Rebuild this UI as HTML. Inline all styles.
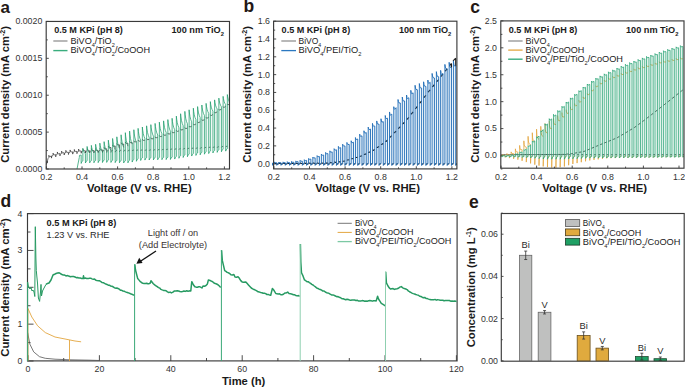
<!DOCTYPE html><html><head><meta charset="utf-8"><style>html,body{margin:0;padding:0;background:#fff;overflow:hidden}svg{display:block}text{font-family:"Liberation Sans",sans-serif}</style></head><body><svg width="685" height="388" viewBox="0 0 685 388" font-family="Liberation Sans, sans-serif">
<rect width="685" height="388" fill="#fff"/>
<text x="0.6" y="12.5" font-size="17.0" font-weight="bold" text-anchor="start" fill="#231815" >a</text>
<text x="243.6" y="12.4" font-size="17.5" font-weight="bold" text-anchor="start" fill="#231815" >b</text>
<text x="470.2" y="12.6" font-size="17.5" font-weight="bold" text-anchor="start" fill="#231815" >c</text>
<text x="0.5" y="207.2" font-size="17.5" font-weight="bold" text-anchor="start" fill="#231815" >d</text>
<text x="469.0" y="207.9" font-size="17.5" font-weight="bold" text-anchor="start" fill="#231815" >e</text>
<line x1="46.40" y1="169.0" x2="46.40" y2="166.4" stroke="#3a3a3a" stroke-width="0.9"/>
<line x1="82.00" y1="169.0" x2="82.00" y2="166.4" stroke="#3a3a3a" stroke-width="0.9"/>
<line x1="117.60" y1="169.0" x2="117.60" y2="166.4" stroke="#3a3a3a" stroke-width="0.9"/>
<line x1="153.20" y1="169.0" x2="153.20" y2="166.4" stroke="#3a3a3a" stroke-width="0.9"/>
<line x1="188.80" y1="169.0" x2="188.80" y2="166.4" stroke="#3a3a3a" stroke-width="0.9"/>
<line x1="224.40" y1="169.0" x2="224.40" y2="166.4" stroke="#3a3a3a" stroke-width="0.9"/>
<line x1="64.20" y1="169.0" x2="64.20" y2="167.4" stroke="#3a3a3a" stroke-width="0.9"/>
<line x1="99.80" y1="169.0" x2="99.80" y2="167.4" stroke="#3a3a3a" stroke-width="0.9"/>
<line x1="135.40" y1="169.0" x2="135.40" y2="167.4" stroke="#3a3a3a" stroke-width="0.9"/>
<line x1="171.00" y1="169.0" x2="171.00" y2="167.4" stroke="#3a3a3a" stroke-width="0.9"/>
<line x1="206.60" y1="169.0" x2="206.60" y2="167.4" stroke="#3a3a3a" stroke-width="0.9"/>
<text x="46.40" y="179.8" font-size="8.8" text-anchor="middle" fill="#333" >0.2</text>
<text x="82.00" y="179.8" font-size="8.8" text-anchor="middle" fill="#333" >0.4</text>
<text x="117.60" y="179.8" font-size="8.8" text-anchor="middle" fill="#333" >0.6</text>
<text x="153.20" y="179.8" font-size="8.8" text-anchor="middle" fill="#333" >0.8</text>
<text x="188.80" y="179.8" font-size="8.8" text-anchor="middle" fill="#333" >1.0</text>
<text x="224.40" y="179.8" font-size="8.8" text-anchor="middle" fill="#333" >1.2</text>
<text x="139.3" y="192.3" font-size="10.2" font-weight="bold" text-anchor="middle" fill="#1a1a1a" textLength="104.8" lengthAdjust="spacingAndGlyphs" >Voltage (V vs. RHE)</text>
<text x="54.2" y="33.0" font-size="9.5" font-weight="bold" text-anchor="start" fill="#1a1a1a" textLength="68.6" lengthAdjust="spacingAndGlyphs" >0.5 M KPi (pH 8)</text>
<text x="171.5" y="33.0" font-size="9.5" font-weight="bold" fill="#1a1a1a" textLength="52.40" lengthAdjust="spacingAndGlyphs">100 nm TiO<tspan font-size="6.0" dy="2.9">2</tspan></text>
<line x1="273.90" y1="168.9" x2="273.90" y2="166.3" stroke="#3a3a3a" stroke-width="0.9"/>
<line x1="309.50" y1="168.9" x2="309.50" y2="166.3" stroke="#3a3a3a" stroke-width="0.9"/>
<line x1="345.10" y1="168.9" x2="345.10" y2="166.3" stroke="#3a3a3a" stroke-width="0.9"/>
<line x1="380.70" y1="168.9" x2="380.70" y2="166.3" stroke="#3a3a3a" stroke-width="0.9"/>
<line x1="416.30" y1="168.9" x2="416.30" y2="166.3" stroke="#3a3a3a" stroke-width="0.9"/>
<line x1="451.90" y1="168.9" x2="451.90" y2="166.3" stroke="#3a3a3a" stroke-width="0.9"/>
<line x1="291.70" y1="168.9" x2="291.70" y2="167.3" stroke="#3a3a3a" stroke-width="0.9"/>
<line x1="327.30" y1="168.9" x2="327.30" y2="167.3" stroke="#3a3a3a" stroke-width="0.9"/>
<line x1="362.90" y1="168.9" x2="362.90" y2="167.3" stroke="#3a3a3a" stroke-width="0.9"/>
<line x1="398.50" y1="168.9" x2="398.50" y2="167.3" stroke="#3a3a3a" stroke-width="0.9"/>
<line x1="434.10" y1="168.9" x2="434.10" y2="167.3" stroke="#3a3a3a" stroke-width="0.9"/>
<text x="273.90" y="179.8" font-size="8.8" text-anchor="middle" fill="#333" >0.2</text>
<text x="309.50" y="179.8" font-size="8.8" text-anchor="middle" fill="#333" >0.4</text>
<text x="345.10" y="179.8" font-size="8.8" text-anchor="middle" fill="#333" >0.6</text>
<text x="380.70" y="179.8" font-size="8.8" text-anchor="middle" fill="#333" >0.8</text>
<text x="416.30" y="179.8" font-size="8.8" text-anchor="middle" fill="#333" >1.0</text>
<text x="451.90" y="179.8" font-size="8.8" text-anchor="middle" fill="#333" >1.2</text>
<text x="367.6" y="192.3" font-size="10.2" font-weight="bold" text-anchor="middle" fill="#1a1a1a" textLength="104.8" lengthAdjust="spacingAndGlyphs" >Voltage (V vs. RHE)</text>
<text x="281.6" y="33.0" font-size="9.5" font-weight="bold" text-anchor="start" fill="#1a1a1a" textLength="68.6" lengthAdjust="spacingAndGlyphs" >0.5 M KPi (pH 8)</text>
<text x="398.9" y="33.0" font-size="9.5" font-weight="bold" fill="#1a1a1a" textLength="52.40" lengthAdjust="spacingAndGlyphs">100 nm TiO<tspan font-size="6.0" dy="2.9">2</tspan></text>
<line x1="501.00" y1="168.2" x2="501.00" y2="165.6" stroke="#3a3a3a" stroke-width="0.9"/>
<line x1="536.60" y1="168.2" x2="536.60" y2="165.6" stroke="#3a3a3a" stroke-width="0.9"/>
<line x1="572.20" y1="168.2" x2="572.20" y2="165.6" stroke="#3a3a3a" stroke-width="0.9"/>
<line x1="607.80" y1="168.2" x2="607.80" y2="165.6" stroke="#3a3a3a" stroke-width="0.9"/>
<line x1="643.40" y1="168.2" x2="643.40" y2="165.6" stroke="#3a3a3a" stroke-width="0.9"/>
<line x1="679.00" y1="168.2" x2="679.00" y2="165.6" stroke="#3a3a3a" stroke-width="0.9"/>
<line x1="518.80" y1="168.2" x2="518.80" y2="166.6" stroke="#3a3a3a" stroke-width="0.9"/>
<line x1="554.40" y1="168.2" x2="554.40" y2="166.6" stroke="#3a3a3a" stroke-width="0.9"/>
<line x1="590.00" y1="168.2" x2="590.00" y2="166.6" stroke="#3a3a3a" stroke-width="0.9"/>
<line x1="625.60" y1="168.2" x2="625.60" y2="166.6" stroke="#3a3a3a" stroke-width="0.9"/>
<line x1="661.20" y1="168.2" x2="661.20" y2="166.6" stroke="#3a3a3a" stroke-width="0.9"/>
<text x="501.00" y="179.8" font-size="8.8" text-anchor="middle" fill="#333" >0.2</text>
<text x="536.60" y="179.8" font-size="8.8" text-anchor="middle" fill="#333" >0.4</text>
<text x="572.20" y="179.8" font-size="8.8" text-anchor="middle" fill="#333" >0.6</text>
<text x="607.80" y="179.8" font-size="8.8" text-anchor="middle" fill="#333" >0.8</text>
<text x="643.40" y="179.8" font-size="8.8" text-anchor="middle" fill="#333" >1.0</text>
<text x="679.00" y="179.8" font-size="8.8" text-anchor="middle" fill="#333" >1.2</text>
<text x="594.7" y="192.3" font-size="10.2" font-weight="bold" text-anchor="middle" fill="#1a1a1a" textLength="104.8" lengthAdjust="spacingAndGlyphs" >Voltage (V vs. RHE)</text>
<text x="508.8" y="33.0" font-size="9.5" font-weight="bold" text-anchor="start" fill="#1a1a1a" textLength="68.6" lengthAdjust="spacingAndGlyphs" >0.5 M KPi (pH 8)</text>
<text x="626.0" y="33.0" font-size="9.5" font-weight="bold" fill="#1a1a1a" textLength="52.40" lengthAdjust="spacingAndGlyphs">100 nm TiO<tspan font-size="6.0" dy="2.9">2</tspan></text>
<line x1="46.2" y1="169.00" x2="48.800000000000004" y2="169.00" stroke="#3a3a3a" stroke-width="0.9"/>
<line x1="46.2" y1="132.11" x2="48.800000000000004" y2="132.11" stroke="#3a3a3a" stroke-width="0.9"/>
<line x1="46.2" y1="95.22" x2="48.800000000000004" y2="95.22" stroke="#3a3a3a" stroke-width="0.9"/>
<line x1="46.2" y1="58.34" x2="48.800000000000004" y2="58.34" stroke="#3a3a3a" stroke-width="0.9"/>
<line x1="46.2" y1="21.45" x2="48.800000000000004" y2="21.45" stroke="#3a3a3a" stroke-width="0.9"/>
<line x1="46.2" y1="150.56" x2="47.800000000000004" y2="150.56" stroke="#3a3a3a" stroke-width="0.9"/>
<line x1="46.2" y1="113.67" x2="47.800000000000004" y2="113.67" stroke="#3a3a3a" stroke-width="0.9"/>
<line x1="46.2" y1="76.78" x2="47.800000000000004" y2="76.78" stroke="#3a3a3a" stroke-width="0.9"/>
<line x1="46.2" y1="39.89" x2="47.800000000000004" y2="39.89" stroke="#3a3a3a" stroke-width="0.9"/>
<text x="42.3" y="171.90" font-size="8.8" text-anchor="end" fill="#333" >0.0000</text>
<text x="42.3" y="135.01" font-size="8.8" text-anchor="end" fill="#333" >0.0005</text>
<text x="42.3" y="98.12" font-size="8.8" text-anchor="end" fill="#333" >0.0010</text>
<text x="42.3" y="61.24" font-size="8.8" text-anchor="end" fill="#333" >0.0015</text>
<text x="42.3" y="24.35" font-size="8.8" text-anchor="end" fill="#333" >0.0020</text>
<path d="M46.40,164.57 L47.20,160.84M47.20,163.05 L47.53,160.63 L48.02,158.57 L48.85,157.52 L48.85,157.52M48.85,155.30 L49.24,156.50 L49.89,156.69 L51.45,155.90M51.45,158.11 L51.78,156.48 L52.27,155.75 L53.10,155.34 L53.10,155.34M53.10,153.13 L53.49,154.46 L54.14,154.88 L55.70,154.63M55.70,156.84 L56.03,155.31 L56.52,154.58 L57.35,154.19 L57.35,154.19M57.35,151.98 L57.74,153.33 L58.39,153.80 L59.95,153.65M59.95,155.86 L60.28,154.36 L60.77,153.66 L61.60,153.31 L61.60,153.31M61.60,151.10 L61.99,152.45 L62.64,152.92 L64.20,152.77M64.20,154.98 L64.53,153.51 L65.02,152.86 L65.85,152.60 L65.85,152.60M65.85,150.39 L66.24,151.78 L66.89,152.31 L68.45,152.33M68.45,154.54 L68.78,153.07 L69.27,152.42 L70.10,152.16 L70.10,152.16M70.10,149.94 L70.49,151.34 L71.14,151.87 L72.70,151.89M72.70,154.10 L73.03,152.63 L73.52,151.98 L74.35,151.72 L74.35,151.72M74.35,149.50 L74.74,150.90 L75.39,151.43 L76.95,151.45M76.95,153.66 L77.28,152.19 L77.77,151.54 L78.60,151.28 L78.60,151.28M78.60,149.06 L78.99,150.46 L79.64,150.99 L81.20,151.01M81.20,153.22 L81.53,151.75 L82.02,151.10 L82.85,150.91 L82.85,150.91M82.85,148.69 L83.24,150.12 L83.89,150.71 L85.45,150.85M85.45,153.07 L85.78,151.62 L86.27,151.01 L87.10,150.82 L87.10,150.82M87.10,148.61 L87.49,150.04 L88.14,150.62 L89.70,150.77M89.70,152.98 L90.03,151.53 L90.52,150.93 L91.35,150.73 L91.35,150.73M91.35,148.52 L91.74,149.95 L92.39,150.53 L93.95,150.68M93.95,152.89 L94.28,151.45 L94.77,150.84 L95.60,150.64 L95.60,150.64M95.60,148.43 L95.99,149.86 L96.64,150.44 L98.20,150.59M98.20,152.80 L98.53,151.36 L99.02,150.75 L99.85,150.56 L99.85,150.56M99.85,148.33 L100.24,149.67 L100.89,150.09 L102.45,149.86M102.45,152.73 L102.78,151.29 L103.27,150.69 L104.10,150.50 L104.10,150.50M104.10,147.21 L104.49,148.55 L105.14,148.98 L106.70,148.75M106.70,152.67 L107.03,151.23 L107.52,150.63 L108.35,150.44 L108.35,150.44M108.35,146.10 L108.74,147.43 L109.39,147.81 L110.95,147.44M110.95,152.49 L111.28,151.12 L111.77,150.55 L112.60,150.38 L112.60,150.38M112.60,144.77 L112.99,146.01 L113.64,146.35 L115.20,145.98M115.20,152.20 L115.53,150.98 L116.02,150.48 L116.85,150.32 L116.85,150.32M116.85,143.42 L117.24,144.58 L117.89,144.94 L119.45,144.81M119.45,151.90 L119.78,150.84 L120.27,150.40 L121.10,150.26 L121.10,150.26M121.10,142.65 L121.49,143.80 L122.14,144.18 L123.70,144.05M123.70,151.61 L124.03,150.70 L124.52,150.32 L125.35,150.20 L125.35,150.20M125.35,142.00 L125.74,143.07 L126.39,143.43 L127.95,143.29M127.95,151.32 L128.28,150.56 L128.77,150.24 L129.60,150.14 L129.60,150.14M129.60,141.36 L129.99,142.35 L130.64,142.68 L132.20,142.52M132.20,151.02 L132.53,150.42 L133.02,150.17 L133.85,150.09 L133.85,150.09M133.85,140.71 L134.24,141.63 L134.89,141.92 L136.45,141.76M136.45,150.79 L136.78,150.30 L137.27,150.10 L138.10,150.03 L138.10,150.03M138.10,139.99 L138.49,140.88 L139.14,141.16 L140.70,141.00M140.70,150.73 L141.03,150.24 L141.52,150.04 L142.35,149.97 L142.35,149.97M142.35,139.23 L142.74,140.11 L143.39,140.40 L144.95,140.23M144.95,150.67 L145.28,150.19 L145.77,149.98 L146.60,149.91 L146.60,149.91M146.60,138.46 L146.99,139.35 L147.64,139.63 L149.20,139.47M149.20,150.61 L149.53,150.13 L150.02,149.92 L150.85,149.85 L150.85,149.85M150.85,137.70 L151.24,138.59 L151.89,138.87 L153.45,138.68M153.45,150.55 L153.78,150.05 L154.27,149.83 L155.10,149.74 L155.10,149.74M155.10,136.73 L155.49,137.57 L156.14,137.78 L157.70,137.45M157.70,150.37 L158.03,149.88 L158.52,149.66 L159.35,149.56 L159.35,149.56M159.35,135.49 L159.74,136.34 L160.39,136.55 L161.95,136.21M161.95,150.19 L162.28,149.70 L162.77,149.48 L163.60,149.39 L163.60,149.39M163.60,134.26 L163.99,135.11 L164.64,135.32 L166.20,134.98M166.20,150.02 L166.53,149.52 L167.02,149.30 L167.85,149.21 L167.85,149.21M167.85,133.03 L168.24,133.87 L168.89,134.08 L170.45,133.75M170.45,149.84 L170.78,149.35 L171.27,149.13 L172.10,149.04 L172.10,149.04M172.10,131.75 L172.49,132.58 L173.14,132.76 L174.70,132.36M174.70,149.67 L175.03,149.17 L175.52,148.95 L176.35,148.86 L176.35,148.86M176.35,130.34 L176.74,131.17 L177.39,131.35 L178.95,130.95M178.95,149.49 L179.28,149.00 L179.77,148.78 L180.60,148.68 L180.60,148.68M180.60,128.93 L180.99,129.76 L181.64,129.94 L183.20,129.54M183.20,149.31 L183.53,148.82 L184.02,148.60 L184.85,148.51 L184.85,148.51M184.85,127.52 L185.24,128.35 L185.89,128.53 L187.45,128.13M187.45,149.14 L187.78,148.64 L188.27,148.42 L189.10,148.33 L189.10,148.33M189.10,126.06 L189.49,126.82 L190.14,126.88 L191.70,126.21M191.70,148.92 L192.03,148.43 L192.52,148.20 L193.35,148.10 L193.35,148.10M193.35,123.89 L193.74,124.65 L194.39,124.72 L195.95,124.04M195.95,148.69 L196.28,148.20 L196.77,147.97 L197.60,147.87 L197.60,147.87M197.60,121.72 L197.99,122.48 L198.64,122.55 L200.20,121.87M200.20,148.46 L200.53,147.97 L201.02,147.74 L201.85,147.64 L201.85,147.64M201.85,119.56 L202.24,120.32 L202.89,120.38 L204.45,119.70M204.45,148.23 L204.78,147.74 L205.27,147.51 L206.10,147.41 L206.10,147.41M206.10,117.39 L206.49,118.15 L207.14,118.15 L208.70,117.27M208.70,148.00 L209.03,147.51 L209.52,147.28 L210.35,147.18 L210.35,147.18M210.35,114.74 L210.74,115.46 L211.39,115.44 L212.95,114.56M212.95,147.78 L213.28,147.28 L213.77,147.05 L214.60,146.95 L214.60,146.95M214.60,112.04 L214.99,112.75 L215.64,112.73 L217.20,111.86M217.20,147.55 L217.53,147.05 L218.02,146.82 L218.85,146.72 L218.85,146.72M218.85,109.33 L219.24,110.04 L219.89,110.03 L221.45,109.15M221.45,147.32 L221.78,146.82 L222.27,146.59 L223.10,146.49 L223.10,146.49M223.10,106.62 L223.49,107.33 L224.14,107.32 L225.70,106.44M225.70,147.09 L226.03,146.59 L226.52,146.36 L227.35,146.26 L227.35,146.26M227.35,103.92 L227.74,104.63 L228.39,104.61 L229.38,104.10M47.20,160.84V163.05M48.85,155.30V157.52M51.45,155.90V158.11M53.10,153.13V155.34M55.70,154.63V156.84M57.35,151.98V154.19M59.95,153.65V155.86M61.60,151.10V153.31M64.20,152.77V154.98M65.85,150.39V152.60M68.45,152.33V154.54M70.10,149.94V152.16M72.70,151.89V154.10M74.35,149.50V151.72M76.95,151.45V153.66M78.60,149.06V151.28M81.20,151.01V153.22M85.45,150.85V153.07M89.70,150.77V152.98M93.95,150.68V152.89M98.20,150.59V152.45M102.45,149.86V151.98M106.70,148.75V151.52M110.95,147.44V150.73M115.20,145.98V149.68M119.45,144.81V148.62M123.70,144.05V147.56M127.95,143.29V146.20M132.20,142.52V144.24M136.45,141.76V142.29" fill="none" stroke="#3a3a3a" stroke-width="0.75" stroke-linejoin="round" stroke-linecap="butt"/>
<path d="M79.63,155.07H80.90V161.99H79.63ZM83.15,153.86H85.15V160.86H83.15ZM87.40,153.39H89.40V160.74H87.40ZM91.65,152.92H93.65V160.63H91.65ZM95.90,152.45H97.90V160.51H95.90ZM100.15,151.98H102.15V160.39H100.15ZM104.40,151.52H106.40V160.27H104.40ZM108.65,150.73H110.65V160.24H108.65ZM112.90,149.68H114.90V160.42H112.90ZM117.15,148.62H119.15V160.59H117.15ZM121.40,147.56H123.40V160.77H121.40ZM125.65,146.20H127.65V160.84H125.65ZM129.90,144.24H131.90V160.31H129.90ZM134.15,142.29H136.15V159.53H134.15ZM138.40,140.33H140.40V158.75H138.40ZM142.65,138.78H144.65V157.97H142.65ZM146.90,137.54H148.90V157.83H146.90ZM151.15,136.29H153.15V157.73H151.15ZM155.40,135.05H157.40V157.63H155.40ZM159.65,133.81H161.65V157.52H159.65ZM163.90,132.56H165.90V157.42H163.90ZM168.15,131.32H170.15V157.32H168.15ZM172.40,129.75H174.40V157.21H172.40ZM176.65,127.80H178.65V156.54H176.65ZM180.90,125.84H182.90V155.76H180.90ZM185.15,123.88H187.15V154.97H185.15ZM189.40,121.82H191.40V154.20H189.40ZM193.65,119.70H195.65V153.59H193.65ZM197.90,117.59H199.90V152.98H197.90ZM202.15,115.48H204.15V152.36H202.15ZM206.40,113.34H208.40V151.75H206.40ZM210.65,111.17H212.65V151.14H210.65ZM214.90,109.00H216.90V150.53H214.90ZM219.15,106.83H221.15V149.91H219.15ZM223.40,104.66H225.40V149.30H223.40ZM227.65,102.78H229.08V148.69H227.65Z" fill="rgba(31,160,104,0.06)"/>
<path d="M77.02,169.00 L79.33,157.20M79.33,157.01 L79.51,155.33 L80.29,155.19 L81.20,155.07M81.20,163.43 L81.69,161.79 L82.85,160.86 L82.85,160.86M82.85,148.40 L83.16,149.70 L83.76,151.28 L84.54,152.66 L85.45,153.86M85.45,163.00 L85.94,161.55 L87.10,160.74 L87.10,160.74M87.10,146.47 L87.41,148.20 L88.01,150.27 L88.79,152.00 L89.70,153.39M89.70,162.89 L90.19,161.43 L91.35,160.63 L91.35,160.63M91.35,145.37 L91.66,147.26 L92.26,149.52 L93.04,151.41 L93.95,152.92M93.95,162.77 L94.44,161.32 L95.60,160.51 L95.60,160.51M95.60,144.27 L95.91,146.32 L96.51,148.77 L97.29,150.81 L98.20,152.45M98.20,162.65 L98.69,161.20 L99.85,160.39 L99.85,160.39M99.85,143.16 L100.16,145.35 L100.76,147.97 L101.54,150.18 L102.45,151.98M102.45,162.53 L102.94,161.08 L104.10,160.27 L104.10,160.27M104.10,141.66 L104.41,144.11 L105.01,147.04 L105.79,149.51 L106.70,151.52M106.70,162.42 L107.19,160.96 L108.35,160.16 L108.35,160.16M108.35,140.16 L108.66,142.85 L109.26,146.05 L110.04,148.67 L110.95,150.73M110.95,162.45 L111.44,161.04 L112.60,160.31 L112.60,160.31M112.60,138.49 L112.91,141.34 L113.51,144.72 L114.29,147.49 L115.20,149.68M115.20,162.63 L115.69,161.21 L116.85,160.48 L116.85,160.48M116.85,136.83 L117.16,139.83 L117.76,143.38 L118.54,146.29 L119.45,148.62M119.45,162.81 L119.94,161.39 L121.10,160.66 L121.10,160.66M121.10,134.80 L121.41,138.02 L122.01,141.85 L122.79,145.02 L123.70,147.56M123.70,162.98 L124.19,161.56 L125.35,160.84 L125.35,160.84M125.35,132.68 L125.66,136.17 L126.26,140.31 L127.04,143.68 L127.95,146.20M127.95,162.83 L128.44,161.30 L129.60,160.31 L129.60,160.31M129.60,131.11 L129.91,134.58 L130.51,138.63 L131.29,141.84 L132.20,144.24M132.20,162.05 L132.69,160.52 L133.85,159.53 L133.85,159.53M133.85,129.74 L134.16,133.07 L134.76,136.94 L135.54,140.00 L136.45,142.29M136.45,161.27 L136.94,159.74 L138.10,158.75 L138.10,158.75M138.10,128.37 L138.41,131.55 L139.01,135.24 L139.79,138.16 L140.70,140.33M140.70,160.48 L141.19,158.95 L142.35,157.97 L142.35,157.97M142.35,127.00 L142.66,130.04 L143.26,133.64 L144.04,136.54 L144.95,138.78M144.95,160.09 L145.44,158.64 L146.60,157.83 L146.60,157.83M146.60,125.82 L146.91,128.85 L147.51,132.42 L148.29,135.31 L149.20,137.54M149.20,159.98 L149.69,158.53 L150.85,157.73 L150.85,157.73M150.85,124.65 L151.16,127.66 L151.76,131.21 L152.54,134.08 L153.45,136.29M153.45,159.88 L153.94,158.43 L155.10,157.63 L155.10,157.63M155.10,123.42 L155.41,126.43 L156.01,129.97 L156.79,132.84 L157.70,135.05M157.70,159.78 L158.19,158.33 L159.35,157.52 L159.35,157.52M159.35,122.14 L159.66,125.16 L160.26,128.71 L161.04,131.58 L161.95,133.81M161.95,159.67 L162.44,158.22 L163.60,157.42 L163.60,157.42M163.60,120.86 L163.91,123.88 L164.51,127.45 L165.29,130.33 L166.20,132.56M166.20,159.57 L166.69,158.12 L167.85,157.32 L167.85,157.32M167.85,119.58 L168.16,122.61 L168.76,126.19 L169.54,129.08 L170.45,131.32M170.45,159.47 L170.94,158.02 L172.10,157.21 L172.10,157.21M172.10,118.30 L172.41,121.34 L173.01,124.88 L173.79,127.64 L174.70,129.75M174.70,159.06 L175.19,157.53 L176.35,156.54 L176.35,156.54M176.35,116.11 L176.66,119.16 L177.26,122.74 L178.04,125.61 L178.95,127.80M178.95,158.27 L179.44,156.74 L180.60,155.76 L180.60,155.76M180.60,113.74 L180.91,116.90 L181.51,120.59 L182.29,123.57 L183.20,125.84M183.20,157.49 L183.69,155.96 L184.85,154.97 L184.85,154.97M184.85,111.40 L185.16,114.70 L185.76,118.54 L186.54,121.59 L187.45,123.88M187.45,156.71 L187.94,155.18 L189.10,154.20 L189.10,154.20M189.10,109.80 L189.41,113.00 L190.01,116.72 L190.79,119.65 L191.70,121.82M191.70,156.04 L192.19,154.53 L193.35,153.59 L193.35,153.59M193.35,108.20 L193.66,111.27 L194.26,114.83 L195.04,117.64 L195.95,119.70M195.95,155.43 L196.44,153.92 L197.60,152.98 L197.60,152.98M197.60,106.60 L197.91,109.54 L198.51,112.95 L199.29,115.63 L200.20,117.59M200.20,154.81 L200.69,153.30 L201.85,152.36 L201.85,152.36M201.85,105.00 L202.16,107.81 L202.76,111.07 L203.54,113.61 L204.45,115.48M204.45,154.20 L204.94,152.69 L206.10,151.75 L206.10,151.75M206.10,103.39 L206.41,106.08 L207.01,109.17 L207.79,111.58 L208.70,113.34M208.70,153.59 L209.19,152.08 L210.35,151.14 L210.35,151.14M210.35,101.64 L210.66,104.22 L211.26,107.18 L212.04,109.49 L212.95,111.17M212.95,152.98 L213.44,151.47 L214.60,150.53 L214.60,150.53M214.60,99.88 L214.91,102.35 L215.51,105.20 L216.29,107.41 L217.20,109.00M217.20,152.36 L217.69,150.85 L218.85,149.91 L218.85,149.91M218.85,98.12 L219.16,100.49 L219.76,103.21 L220.54,105.32 L221.45,106.83M221.45,151.75 L221.94,150.24 L223.10,149.30 L223.10,149.30M223.10,96.35 L223.41,98.63 L224.01,101.23 L224.79,103.23 L225.70,104.66M225.70,151.14 L226.19,149.63 L227.35,148.69 L227.35,148.69M227.35,94.59 L227.66,96.76 L228.26,99.24 L229.04,101.15 L229.38,102.78M81.20,155.07V163.43M82.85,148.40V160.86M85.45,153.86V163.00M87.10,146.47V160.74M89.70,153.39V162.89M91.35,145.37V160.63M93.95,152.92V162.77M95.60,144.27V160.51M98.20,152.45V162.65M99.85,143.16V160.39M102.45,151.98V162.53M104.10,141.66V160.27M106.70,151.52V162.42M108.35,140.16V160.16M110.95,150.73V162.45M112.60,138.49V160.31M115.20,149.68V162.63M116.85,136.83V160.48M119.45,148.62V162.81M121.10,134.80V160.66M123.70,147.56V162.98M125.35,132.68V160.84M127.95,146.20V162.83M129.60,131.11V160.31M132.20,144.24V162.05M133.85,129.74V159.53M136.45,142.29V161.27M138.10,128.37V158.75M140.70,140.33V160.48M142.35,127.00V157.97M144.95,138.78V160.09M146.60,125.82V157.83M149.20,137.54V159.98M150.85,124.65V157.73M153.45,136.29V159.88M155.10,123.42V157.63M157.70,135.05V159.78M159.35,122.14V157.52M161.95,133.81V159.67M163.60,120.86V157.42M166.20,132.56V159.57M167.85,119.58V157.32M170.45,131.32V159.47M172.10,118.30V157.21M174.70,129.75V159.06M176.35,116.11V156.54M178.95,127.80V158.27M180.60,113.74V155.76M183.20,125.84V157.49M184.85,111.40V154.97M187.45,123.88V156.71M189.10,109.80V154.20M191.70,121.82V156.04M193.35,108.20V153.59M195.95,119.70V155.43M197.60,106.60V152.98M200.20,117.59V154.81M201.85,105.00V152.36M204.45,115.48V154.20M206.10,103.39V151.75M208.70,113.34V153.59M210.35,101.64V151.14M212.95,111.17V152.98M214.60,99.88V150.53M217.20,109.00V152.36M218.85,98.12V149.91M221.45,106.83V151.75M223.10,96.35V149.30M225.70,104.66V151.14M227.35,94.59V148.69" fill="none" stroke="#1f9e6c" stroke-width="0.75" stroke-linejoin="round" stroke-linecap="butt"/>
<line x1="53.3" y1="41" x2="67.5" y2="41" stroke="#9a9a9a" stroke-width="1.4"/>
<line x1="53.3" y1="50.6" x2="67.5" y2="50.6" stroke="#3aad7e" stroke-width="1.4"/>
<text x="70.5" y="44.0" font-size="9.8" fill="#222" textLength="44.30" lengthAdjust="spacingAndGlyphs">BiVO<tspan font-size="6.0" dy="3.1">4</tspan><tspan dy="-3.1">/TiO</tspan><tspan font-size="6.0" dy="3.1">2</tspan></text>
<text x="70.5" y="53.1" font-size="9.8" fill="#222" textLength="79.50" lengthAdjust="spacingAndGlyphs">BiVO<tspan font-size="6.0" dy="3.1">4</tspan><tspan dy="-3.1">/TiO</tspan><tspan font-size="6.0" dy="3.1">2</tspan><tspan dy="-3.1">/CoOOH</tspan></text>
<text transform="translate(8.5,94.4) rotate(-90)" text-anchor="middle" font-size="10.4" font-weight="bold" fill="#1a1a1a" textLength="136.8" lengthAdjust="spacingAndGlyphs">Current density (mA cm<tspan font-size="6.5" dy="-4">-2</tspan><tspan dy="4">)</tspan></text>
<rect x="46.2" y="21.45" width="183.3" height="147.55" fill="none" stroke="#3a3a3a" stroke-width="1.15"/>
<line x1="273.6" y1="163.70" x2="276.20000000000005" y2="163.70" stroke="#3a3a3a" stroke-width="0.9"/>
<line x1="273.6" y1="145.89" x2="276.20000000000005" y2="145.89" stroke="#3a3a3a" stroke-width="0.9"/>
<line x1="273.6" y1="128.07" x2="276.20000000000005" y2="128.07" stroke="#3a3a3a" stroke-width="0.9"/>
<line x1="273.6" y1="110.26" x2="276.20000000000005" y2="110.26" stroke="#3a3a3a" stroke-width="0.9"/>
<line x1="273.6" y1="92.45" x2="276.20000000000005" y2="92.45" stroke="#3a3a3a" stroke-width="0.9"/>
<line x1="273.6" y1="74.64" x2="276.20000000000005" y2="74.64" stroke="#3a3a3a" stroke-width="0.9"/>
<line x1="273.6" y1="56.82" x2="276.20000000000005" y2="56.82" stroke="#3a3a3a" stroke-width="0.9"/>
<line x1="273.6" y1="39.01" x2="276.20000000000005" y2="39.01" stroke="#3a3a3a" stroke-width="0.9"/>
<line x1="273.6" y1="21.20" x2="276.20000000000005" y2="21.20" stroke="#3a3a3a" stroke-width="0.9"/>
<line x1="273.6" y1="154.79" x2="275.20000000000005" y2="154.79" stroke="#3a3a3a" stroke-width="0.9"/>
<line x1="273.6" y1="136.98" x2="275.20000000000005" y2="136.98" stroke="#3a3a3a" stroke-width="0.9"/>
<line x1="273.6" y1="119.17" x2="275.20000000000005" y2="119.17" stroke="#3a3a3a" stroke-width="0.9"/>
<line x1="273.6" y1="101.36" x2="275.20000000000005" y2="101.36" stroke="#3a3a3a" stroke-width="0.9"/>
<line x1="273.6" y1="83.54" x2="275.20000000000005" y2="83.54" stroke="#3a3a3a" stroke-width="0.9"/>
<line x1="273.6" y1="65.73" x2="275.20000000000005" y2="65.73" stroke="#3a3a3a" stroke-width="0.9"/>
<line x1="273.6" y1="47.92" x2="275.20000000000005" y2="47.92" stroke="#3a3a3a" stroke-width="0.9"/>
<line x1="273.6" y1="30.11" x2="275.20000000000005" y2="30.11" stroke="#3a3a3a" stroke-width="0.9"/>
<text x="270.0" y="166.60" font-size="8.8" text-anchor="end" fill="#333" >0.0</text>
<text x="270.0" y="148.79" font-size="8.8" text-anchor="end" fill="#333" >0.2</text>
<text x="270.0" y="130.97" font-size="8.8" text-anchor="end" fill="#333" >0.4</text>
<text x="270.0" y="113.16" font-size="8.8" text-anchor="end" fill="#333" >0.6</text>
<text x="270.0" y="95.35" font-size="8.8" text-anchor="end" fill="#333" >0.8</text>
<text x="270.0" y="77.54" font-size="8.8" text-anchor="end" fill="#333" >1.0</text>
<text x="270.0" y="59.72" font-size="8.8" text-anchor="end" fill="#333" >1.2</text>
<text x="270.0" y="41.91" font-size="8.8" text-anchor="end" fill="#333" >1.4</text>
<text x="270.0" y="24.10" font-size="8.8" text-anchor="end" fill="#333" >1.6</text>
<path d="M272.54,164.59 L273.13,164.01 L274.50,163.70 L274.50,163.70M274.50,162.98 L274.91,163.37 L275.42,163.58 L276.80,163.68M276.80,164.59 L277.39,164.01 L278.76,163.70 L278.76,163.70M278.76,162.95 L279.17,163.34 L279.68,163.54 L281.06,163.64M281.06,164.59 L281.65,164.01 L283.02,163.70 L283.02,163.70M283.02,162.91 L283.43,163.30 L283.94,163.51 L285.32,163.60M285.32,164.59 L285.91,164.01 L287.28,163.70 L287.28,163.70M287.28,162.88 L287.69,163.26 L288.20,163.47 L289.58,163.57M289.58,164.59 L290.17,164.01 L291.54,163.70 L291.54,163.70M291.54,162.84 L291.95,163.23 L292.46,163.44 L293.84,163.53M293.84,164.59 L294.43,164.01 L295.80,163.70 L295.80,163.70M295.80,162.80 L296.21,163.19 L296.72,163.40 L298.10,163.50M298.10,164.59 L298.69,164.01 L300.06,163.70 L300.06,163.70M300.06,162.77 L300.47,163.16 L300.98,163.37 L302.36,163.46M302.36,164.59 L302.95,164.01 L304.32,163.70 L304.32,163.70M304.32,162.73 L304.73,163.12 L305.24,163.33 L306.62,163.43M306.62,164.59 L307.21,164.01 L308.58,163.70 L308.58,163.70M308.58,162.70 L308.99,163.09 L309.50,163.30 L310.88,163.39M310.88,164.59 L311.47,164.01 L312.84,163.70 L312.84,163.70M312.84,162.66 L313.25,163.05 L313.76,163.26 L315.14,163.36M315.14,164.59 L315.73,164.01 L317.10,163.70 L317.10,163.70M317.10,162.63 L317.51,163.02 L318.02,163.23 L319.40,163.32M319.40,164.59 L319.99,164.01 L321.36,163.70 L321.36,163.70M321.36,162.59 L321.77,162.98 L322.28,163.19 L323.66,163.29M323.66,164.59 L324.25,164.01 L325.62,163.70 L325.62,163.70M325.62,162.56 L326.03,162.94 L326.54,163.15 L327.92,163.19M327.92,164.59 L328.51,164.01 L329.88,163.70 L329.88,163.70M329.88,162.26 L330.29,162.61 L330.80,162.77 L332.18,162.73M332.18,164.59 L332.77,164.01 L334.14,163.70 L334.14,163.70M334.14,161.80 L334.55,162.15 L335.06,162.31 L336.44,162.27M336.44,164.59 L337.03,164.01 L338.40,163.70 L338.40,163.70M338.40,161.34 L338.81,161.69 L339.32,161.85 L340.70,161.81M340.70,164.59 L341.29,164.01 L342.66,163.70 L342.66,163.70M342.66,160.88 L343.07,161.21 L343.58,161.28 L344.96,160.98M344.96,164.59 L345.55,164.01 L346.92,163.70 L346.92,163.70M346.92,159.69 L347.33,159.96 L347.84,160.03 L349.22,159.73M349.22,164.59 L349.81,164.01 L351.18,163.70 L351.18,163.70M351.18,158.45 L351.59,158.72 L352.10,158.79 L353.48,158.49M353.48,164.59 L354.07,164.01 L355.44,163.70 L355.44,163.70M355.44,157.20 L355.85,157.47 L356.36,157.54 L357.74,157.24M357.74,164.59 L358.33,164.01 L359.70,163.70 L359.70,163.70M359.70,155.96 L360.11,156.23 L360.62,156.30 L362.00,155.81M362.00,164.59 L362.59,164.01 L363.96,163.70 L363.96,163.70M363.96,154.17 L364.37,154.37 L364.88,154.34 L366.26,153.80M366.26,164.59 L366.85,164.01 L368.22,163.70 L368.22,163.70M368.22,152.16 L368.63,152.36 L369.14,152.33 L370.52,151.79M370.52,164.59 L371.11,164.01 L372.48,163.70 L372.48,163.70M372.48,150.15 L372.89,150.34 L373.40,150.32 L374.78,149.49M374.78,164.59 L375.37,164.01 L376.74,163.70 L376.74,163.70M376.74,147.40 L377.15,147.50 L377.66,147.36 L379.04,146.49M379.04,164.59 L379.63,164.01 L381.00,163.70 L381.00,163.70M381.00,144.40 L381.41,144.50 L381.92,144.36 L383.30,143.49M383.30,164.59 L383.89,164.01 L385.26,163.70 L385.26,163.70M385.26,141.40 L385.67,141.50 L386.18,141.35 L387.56,140.04M387.56,164.59 L388.15,164.01 L389.52,163.70 L389.52,163.70M389.52,137.28 L389.93,137.24 L390.44,136.93 L391.82,135.59M391.82,164.59 L392.41,164.01 L393.78,163.70 L393.78,163.70M393.78,132.84 L394.19,132.80 L394.70,132.49 L396.08,131.15M396.08,164.59 L396.67,164.01 L398.04,163.70 L398.04,163.70M398.04,128.40 L398.45,128.36 L398.96,128.05 L400.34,126.68M400.34,164.59 L400.93,164.01 L402.30,163.70 L402.30,163.70M402.30,123.89 L402.71,123.84 L403.22,123.51 L404.60,122.15M404.60,164.59 L405.19,164.01 L406.56,163.70 L406.56,163.70M406.56,119.35 L406.97,119.30 L407.48,118.96 L408.86,117.30M408.86,164.59 L409.45,164.01 L410.82,163.70 L410.82,163.70M410.82,114.09 L411.23,113.95 L411.74,113.52 L413.12,111.86M413.12,164.59 L413.71,164.01 L415.08,163.70 L415.08,163.70M415.08,108.65 L415.49,108.51 L416.00,108.07 L417.38,106.38M417.38,164.59 L417.97,164.01 L419.34,163.70 L419.34,163.70M419.34,103.11 L419.75,102.97 L420.26,102.52 L421.64,100.83M421.64,164.59 L422.23,164.01 L423.60,163.70 L423.60,163.70M423.60,97.57 L424.01,97.42 L424.52,96.97 L425.90,95.28M425.90,164.59 L426.49,164.01 L427.86,163.70 L427.86,163.70M427.86,92.02 L428.27,91.87 L428.78,91.43 L430.16,89.86M430.16,164.59 L430.75,164.01 L432.12,163.70 L432.12,163.70M432.12,86.76 L432.53,86.65 L433.04,86.25 L434.42,84.68M434.42,164.59 L435.01,164.01 L436.38,163.70 L436.38,163.70M436.38,81.59 L436.79,81.48 L437.30,81.08 L438.68,79.51M438.68,164.59 L439.27,164.01 L440.64,163.70 L440.64,163.70M440.64,76.41 L441.05,76.30 L441.56,75.88 L442.94,74.24M442.94,164.59 L443.53,164.01 L444.90,163.70 L444.90,163.70M444.90,71.04 L445.31,70.91 L445.82,70.48 L447.20,68.84M447.20,164.59 L447.79,164.01 L449.16,163.70 L449.16,163.70M449.16,65.64 L449.57,65.51 L450.08,65.08 L451.46,63.44M451.46,164.59 L452.05,164.01 L453.42,163.70 L453.42,163.70M453.42,60.24 L453.83,60.11 L454.34,59.68 L455.72,58.17M455.72,164.59 L456.31,164.01 L456.88,163.70M447.20,68.84V68.98M451.46,63.44V67.71M453.42,60.24V60.97M455.72,58.17V66.22" fill="none" stroke="#1a1a1a" stroke-width="1.15" stroke-linejoin="round" stroke-linecap="butt"/>
<path d="M274.20,162.81H272.24V163.70H274.20ZM274.80,162.80H276.50V163.70H274.80ZM279.06,162.79H280.76V163.70H279.06ZM283.32,162.71H285.02V163.70H283.32ZM287.58,162.57H289.28V163.70H287.58ZM291.84,162.24H293.54V163.70H291.84ZM296.10,161.72H297.80V163.70H296.10ZM300.36,161.21H302.06V163.70H300.36ZM304.62,160.42H306.32V163.70H304.62ZM308.88,159.11H310.58V163.70H308.88ZM313.14,157.84H314.84V163.70H313.14ZM317.40,156.52H319.10V163.70H317.40ZM321.66,155.06H323.36V163.70H321.66ZM325.92,153.60H327.62V163.70H325.92ZM330.18,151.91H331.88V163.70H330.18ZM334.44,149.81H336.14V163.70H334.44ZM338.70,147.70H340.40V163.70H338.70ZM342.96,145.94H344.66V163.70H342.96ZM347.22,144.42H348.92V163.70H347.22ZM351.48,142.21H353.18V163.70H351.48ZM355.74,139.03H357.44V163.70H355.74ZM360.00,135.86H361.70V163.70H360.00ZM364.26,132.56H365.96V163.70H364.26ZM368.52,129.04H370.22V163.70H368.52ZM372.78,126.09H374.48V163.70H372.78ZM377.04,124.13H378.74V163.70H377.04ZM381.30,121.67H383.00V163.70H381.30ZM385.56,118.22H387.26V163.70H385.56ZM389.82,114.09H391.52V163.70H389.82ZM394.08,107.71H395.78V163.70H394.08ZM398.34,103.00H400.04V163.70H398.34ZM402.60,101.01H404.30V163.70H402.60ZM406.86,97.78H408.56V163.70H406.86ZM411.12,92.87H412.82V163.70H411.12ZM415.38,89.74H417.08V163.70H415.38ZM419.64,88.08H421.34V163.70H419.64ZM423.90,86.42H425.60V163.70H423.90ZM428.16,82.25H429.86V163.70H428.16ZM432.42,78.01H434.12V163.70H432.42ZM436.68,76.80H438.38V163.70H436.68ZM440.94,73.42H442.64V163.70H440.94ZM445.20,68.98H446.90V163.70H445.20ZM449.46,67.71H451.16V163.70H449.46ZM453.72,66.22H455.42V163.70H453.72Z" fill="rgba(43,120,192,0.09)"/>
<path d="M272.54,165.30 L273.03,164.34 L273.72,163.86 L274.50,163.70 L274.50,163.70M274.50,162.08 L274.91,162.48 L275.42,162.69 L276.80,162.80M276.80,165.31 L277.29,164.34 L277.98,163.86 L278.76,163.70 L278.76,163.70M278.76,162.00 L279.17,162.43 L279.68,162.67 L281.06,162.79M281.06,165.32 L281.55,164.35 L282.24,163.86 L283.02,163.70 L283.02,163.70M283.02,161.91 L283.43,162.37 L283.94,162.62 L285.32,162.71M285.32,165.33 L285.81,164.35 L286.50,163.86 L287.28,163.70 L287.28,163.70M287.28,161.69 L287.69,162.20 L288.20,162.47 L289.58,162.57M289.58,165.34 L290.07,164.36 L290.76,163.86 L291.54,163.70 L291.54,163.70M291.54,161.48 L291.95,162.00 L292.46,162.25 L293.84,162.24M293.84,165.35 L294.33,164.36 L295.02,163.87 L295.80,163.70 L295.80,163.70M295.80,160.91 L296.21,161.46 L296.72,161.72 L298.10,161.72M298.10,165.36 L298.59,164.37 L299.28,163.87 L300.06,163.70 L300.06,163.70M300.06,160.32 L300.47,160.91 L300.98,161.20 L302.36,161.21M302.36,165.37 L302.85,164.37 L303.54,163.87 L304.32,163.70 L304.32,163.70M304.32,159.73 L304.73,160.36 L305.24,160.67 L306.62,160.42M306.62,165.38 L307.11,164.37 L307.80,163.87 L308.58,163.70 L308.58,163.70M308.58,158.49 L308.99,159.08 L309.50,159.31 L310.88,159.11M310.88,165.40 L311.37,164.38 L312.06,163.87 L312.84,163.70 L312.84,163.70M312.84,157.06 L313.25,157.74 L313.76,158.03 L315.14,157.84M315.14,165.41 L315.63,164.38 L316.32,163.87 L317.10,163.70 L317.10,163.70M317.10,155.64 L317.51,156.41 L318.02,156.74 L319.40,156.52M319.40,165.42 L319.89,164.39 L320.58,163.87 L321.36,163.70 L321.36,163.70M321.36,154.07 L321.77,154.90 L322.28,155.26 L323.66,155.06M323.66,165.43 L324.15,164.39 L324.84,163.87 L325.62,163.70 L325.62,163.70M325.62,152.45 L326.03,153.36 L326.54,153.77 L327.92,153.60M327.92,165.44 L328.41,164.40 L329.10,163.87 L329.88,163.70 L329.88,163.70M329.88,150.82 L330.29,151.83 L330.80,152.27 L332.18,151.91M332.18,165.45 L332.67,164.40 L333.36,163.88 L334.14,163.70 L334.14,163.70M334.14,148.68 L334.55,149.71 L335.06,150.14 L336.44,149.81M336.44,165.46 L336.93,164.40 L337.62,163.88 L338.40,163.70 L338.40,163.70M338.40,146.42 L338.81,147.54 L339.32,148.02 L340.70,147.70M340.70,165.47 L341.19,164.41 L341.88,163.88 L342.66,163.70 L342.66,163.70M342.66,144.21 L343.07,145.47 L343.58,146.06 L344.96,145.94M344.96,165.48 L345.45,164.41 L346.14,163.88 L346.92,163.70 L346.92,163.70M346.92,142.48 L347.33,143.84 L347.84,144.49 L349.22,144.42M349.22,165.48 L349.71,164.41 L350.40,163.88 L351.18,163.70 L351.18,163.70M351.18,140.75 L351.59,142.23 L352.10,142.78 L353.48,142.21M353.48,165.48 L353.97,164.41 L354.66,163.88 L355.44,163.70 L355.44,163.70M355.44,137.56 L355.85,139.00 L356.36,139.58 L357.74,139.03M357.74,165.48 L358.23,164.41 L358.92,163.88 L359.70,163.70 L359.70,163.70M359.70,134.17 L360.11,135.73 L360.62,136.37 L362.00,135.86M362.00,165.48 L362.49,164.41 L363.18,163.88 L363.96,163.70 L363.96,163.70M363.96,130.78 L364.37,132.46 L364.88,133.15 L366.26,132.56M366.26,165.48 L366.75,164.41 L367.44,163.88 L368.22,163.70 L368.22,163.70M368.22,127.11 L368.63,128.87 L369.14,129.60 L370.52,129.04M370.52,165.48 L371.01,164.41 L371.70,163.88 L372.48,163.70 L372.48,163.70M372.48,123.38 L372.89,125.25 L373.40,126.12 L374.78,126.09M374.78,165.48 L375.27,164.41 L375.96,163.88 L376.74,163.70 L376.74,163.70M376.74,120.94 L377.15,123.08 L377.66,124.12 L379.04,124.13M379.04,165.48 L379.53,164.41 L380.22,163.88 L381.00,163.70 L381.00,163.70M381.00,118.76 L381.41,121.01 L381.92,122.10 L383.30,121.67M383.30,165.48 L383.79,164.41 L384.48,163.88 L385.26,163.70 L385.26,163.70M385.26,115.51 L385.67,117.69 L386.18,118.65 L387.56,118.22M387.56,165.48 L388.05,164.41 L388.74,163.88 L389.52,163.70 L389.52,163.70M389.52,111.96 L389.93,114.19 L390.44,115.19 L391.82,114.09M391.82,165.48 L392.31,164.41 L393.00,163.88 L393.78,163.70 L393.78,163.70M393.78,106.71 L394.19,108.73 L394.70,109.32 L396.08,107.71M396.08,165.48 L396.57,164.41 L397.26,163.88 L398.04,163.70 L398.04,163.70M398.04,99.52 L398.45,101.67 L398.96,102.90 L400.34,103.00M400.34,165.48 L400.83,164.41 L401.52,163.88 L402.30,163.70 L402.30,163.70M402.30,97.09 L402.71,99.64 L403.22,100.90 L404.60,101.01M404.60,165.48 L405.09,164.41 L405.78,163.88 L406.56,163.70 L406.56,163.70M406.56,95.00 L406.97,97.61 L407.48,98.61 L408.86,97.78M408.86,165.48 L409.35,164.41 L410.04,163.88 L410.82,163.70 L410.82,163.70M410.82,90.32 L411.23,92.70 L411.74,93.68 L413.12,92.87M413.12,165.48 L413.61,164.41 L414.30,163.88 L415.08,163.70 L415.08,163.70M415.08,85.31 L415.49,88.07 L416.00,89.47 L417.38,89.74M417.38,165.48 L417.87,164.41 L418.56,163.88 L419.34,163.70 L419.34,163.70M419.34,83.56 L419.75,86.37 L420.26,87.80 L421.64,88.08M421.64,165.48 L422.13,164.41 L422.82,163.88 L423.60,163.70 L423.60,163.70M423.60,81.81 L424.01,84.67 L424.52,86.13 L425.90,86.42M425.90,165.48 L426.39,164.41 L427.08,163.88 L427.86,163.70 L427.86,163.70M427.86,80.06 L428.27,82.70 L428.78,83.58 L430.16,82.25M430.16,165.48 L430.65,164.41 L431.34,163.88 L432.12,163.70 L432.12,163.70M432.12,73.46 L432.53,75.98 L433.04,77.54 L434.42,78.01M434.42,165.48 L434.91,164.41 L435.60,163.88 L436.38,163.70 L436.38,163.70M436.38,71.67 L436.79,74.73 L437.30,76.32 L438.68,76.80M438.68,165.48 L439.17,164.41 L439.86,163.88 L440.64,163.70 L440.64,163.70M440.64,70.36 L441.05,73.47 L441.56,74.67 L442.94,73.42M442.94,165.48 L443.43,164.41 L444.12,163.88 L444.90,163.70 L444.90,163.70M444.90,64.43 L445.31,67.07 L445.82,68.49 L447.20,68.98M447.20,165.48 L447.69,164.41 L448.38,163.88 L449.16,163.70 L449.16,163.70M449.16,62.33 L449.57,65.54 L450.08,67.21 L451.46,67.71M451.46,165.48 L451.95,164.41 L452.64,163.88 L453.42,163.70 L453.42,163.70M453.42,60.97 L453.83,64.23 L454.34,65.87 L455.72,66.22M455.72,165.48 L456.21,164.41 L456.88,163.88M272.54,162.81V165.30M274.50,162.08V163.70M276.80,162.80V165.31M278.76,162.00V163.70M281.06,162.79V165.32M283.02,161.91V163.70M285.32,162.71V165.33M287.28,161.69V163.70M289.58,162.57V165.34M291.54,161.48V163.70M293.84,162.24V165.35M295.80,160.91V163.70M298.10,161.72V165.36M300.06,160.32V163.70M302.36,161.21V165.37M304.32,159.73V163.70M306.62,160.42V165.38M308.58,158.49V163.70M310.88,159.11V165.40M312.84,157.06V163.70M315.14,157.84V165.41M317.10,155.64V163.70M319.40,156.52V165.42M321.36,154.07V163.70M323.66,155.06V165.43M325.62,152.45V163.70M327.92,153.60V165.44M329.88,150.82V163.70M332.18,151.91V165.45M334.14,148.68V163.70M336.44,149.81V165.46M338.40,146.42V163.70M340.70,147.70V165.47M342.66,144.21V163.70M344.96,145.94V165.48M346.92,142.48V163.70M349.22,144.42V165.48M351.18,140.75V163.70M353.48,142.21V165.48M355.44,137.56V163.70M357.74,139.03V165.48M359.70,134.17V163.70M362.00,135.86V165.48M363.96,130.78V163.70M366.26,132.56V165.48M368.22,127.11V163.70M370.52,129.04V165.48M372.48,123.38V163.70M374.78,126.09V165.48M376.74,120.94V163.70M379.04,124.13V165.48M381.00,118.76V163.70M383.30,121.67V165.48M385.26,115.51V163.70M387.56,118.22V165.48M389.52,111.96V163.70M391.82,114.09V165.48M393.78,106.71V163.70M396.08,107.71V165.48M398.04,99.52V163.70M400.34,103.00V165.48M402.30,97.09V163.70M404.60,101.01V165.48M406.56,95.00V163.70M408.86,97.78V165.48M410.82,90.32V163.70M413.12,92.87V165.48M415.08,85.31V163.70M417.38,89.74V165.48M419.34,83.56V163.70M421.64,88.08V165.48M423.60,81.81V163.70M425.90,86.42V165.48M427.86,80.06V163.70M430.16,82.25V165.48M432.12,73.46V163.70M434.42,78.01V165.48M436.38,71.67V163.70M438.68,76.80V165.48M440.64,70.36V163.70M442.94,73.42V165.48M444.90,64.43V163.70M447.20,68.98V165.48M449.16,62.33V163.70M451.46,67.71V165.48M453.42,60.97V163.70M455.72,66.22V165.48" fill="none" stroke="#2470b8" stroke-width="0.95" stroke-linejoin="round" stroke-linecap="butt"/>
<line x1="281.3" y1="41" x2="296.0" y2="41" stroke="#9a9a9a" stroke-width="1.4"/>
<line x1="281.3" y1="50.6" x2="296.0" y2="50.6" stroke="#2b78c0" stroke-width="1.3"/>
<text x="298.5" y="44.0" font-size="9.8" fill="#222" textLength="22.70" lengthAdjust="spacingAndGlyphs">BiVO<tspan font-size="6.0" dy="3.1">4</tspan></text>
<text x="298.5" y="53.1" font-size="9.8" fill="#222" textLength="62.80" lengthAdjust="spacingAndGlyphs">BiVO<tspan font-size="6.0" dy="3.1">4</tspan><tspan dy="-3.1">/PEI/TiO</tspan><tspan font-size="6.0" dy="3.1">2</tspan></text>
<text transform="translate(251.4,94.4) rotate(-90)" text-anchor="middle" font-size="10.4" font-weight="bold" fill="#1a1a1a" textLength="136.8" lengthAdjust="spacingAndGlyphs">Current density (mA cm<tspan font-size="6.5" dy="-4">-2</tspan><tspan dy="4">)</tspan></text>
<rect x="273.6" y="21.2" width="183.29999999999995" height="147.70000000000002" fill="none" stroke="#3a3a3a" stroke-width="1.15"/>
<line x1="500.8" y1="155.50" x2="503.40000000000003" y2="155.50" stroke="#3a3a3a" stroke-width="0.9"/>
<line x1="500.8" y1="128.58" x2="503.40000000000003" y2="128.58" stroke="#3a3a3a" stroke-width="0.9"/>
<line x1="500.8" y1="101.66" x2="503.40000000000003" y2="101.66" stroke="#3a3a3a" stroke-width="0.9"/>
<line x1="500.8" y1="74.74" x2="503.40000000000003" y2="74.74" stroke="#3a3a3a" stroke-width="0.9"/>
<line x1="500.8" y1="47.82" x2="503.40000000000003" y2="47.82" stroke="#3a3a3a" stroke-width="0.9"/>
<line x1="500.8" y1="20.90" x2="503.40000000000003" y2="20.90" stroke="#3a3a3a" stroke-width="0.9"/>
<line x1="500.8" y1="142.04" x2="502.40000000000003" y2="142.04" stroke="#3a3a3a" stroke-width="0.9"/>
<line x1="500.8" y1="115.12" x2="502.40000000000003" y2="115.12" stroke="#3a3a3a" stroke-width="0.9"/>
<line x1="500.8" y1="88.20" x2="502.40000000000003" y2="88.20" stroke="#3a3a3a" stroke-width="0.9"/>
<line x1="500.8" y1="61.28" x2="502.40000000000003" y2="61.28" stroke="#3a3a3a" stroke-width="0.9"/>
<line x1="500.8" y1="34.36" x2="502.40000000000003" y2="34.36" stroke="#3a3a3a" stroke-width="0.9"/>
<line x1="500.8" y1="168.96" x2="502.40000000000003" y2="168.96" stroke="#3a3a3a" stroke-width="0.9"/>
<text x="497.0" y="158.40" font-size="8.8" text-anchor="end" fill="#333" >0.0</text>
<text x="497.0" y="131.48" font-size="8.8" text-anchor="end" fill="#333" >0.5</text>
<text x="497.0" y="104.56" font-size="8.8" text-anchor="end" fill="#333" >1.0</text>
<text x="497.0" y="77.64" font-size="8.8" text-anchor="end" fill="#333" >1.5</text>
<text x="497.0" y="50.72" font-size="8.8" text-anchor="end" fill="#333" >2.0</text>
<text x="497.0" y="23.80" font-size="8.8" text-anchor="end" fill="#333" >2.5</text>
<path d="M500.93,154.69 L501.46,154.69 L502.71,154.69 L502.71,154.69M502.71,154.69 L503.15,154.68 L503.69,154.68 L505.16,154.67M505.16,154.69 L505.69,154.69 L506.94,154.69 L506.94,154.69M506.94,154.67 L507.38,154.66 L507.92,154.66 L509.39,154.66M509.39,154.69 L509.92,154.69 L511.17,154.69 L511.17,154.69M511.17,154.65 L511.61,154.65 L512.15,154.64 L513.62,154.64M513.62,154.69 L514.15,154.69 L515.40,154.69 L515.40,154.69M515.40,154.63 L515.84,154.63 L516.38,154.63 L517.85,154.62M517.85,154.69 L518.38,154.69 L519.63,154.69 L519.63,154.69M519.63,154.61 L520.07,154.61 L520.61,154.61 L522.08,154.60M522.08,154.69 L522.61,154.69 L523.86,154.69 L523.86,154.69M523.86,154.59 L524.30,154.59 L524.84,154.59 L526.31,154.58M526.31,154.69 L526.84,154.69 L528.09,154.69 L528.09,154.69M528.09,154.58 L528.53,154.57 L529.07,154.57 L530.54,154.56M530.54,154.69 L531.07,154.69 L532.32,154.69 L532.32,154.69M532.32,154.56 L532.76,154.56 L533.30,154.55 L534.77,154.55M534.77,154.69 L535.30,154.69 L536.55,154.69 L536.55,154.69M536.55,154.54 L536.99,154.54 L537.53,154.53 L539.00,154.53M539.00,154.69 L539.53,154.69 L540.78,154.69 L540.78,154.69M540.78,154.52 L541.22,154.52 L541.76,154.52 L543.23,154.51M543.23,154.69 L543.76,154.69 L545.01,154.69 L545.01,154.69M545.01,154.50 L545.45,154.50 L545.99,154.50 L547.46,154.49M547.46,154.69 L547.99,154.69 L549.24,154.69 L549.24,154.69M549.24,154.48 L549.68,154.48 L550.22,154.48 L551.69,154.47M551.69,154.69 L552.22,154.69 L553.47,154.69 L553.47,154.69M553.47,154.47 L553.91,154.46 L554.45,154.46 L555.92,154.46M555.92,154.69 L556.45,154.69 L557.70,154.69 L557.70,154.69M557.70,154.45 L558.14,154.45 L558.68,154.44 L560.15,154.44M560.15,154.69 L560.68,154.69 L561.93,154.69 L561.93,154.69M561.93,154.43 L562.37,154.43 L562.91,154.42 L564.38,154.33M564.38,154.69 L564.91,154.69 L566.16,154.69 L566.16,154.69M566.16,154.16 L566.60,154.12 L567.14,154.07 L568.61,153.94M568.61,154.69 L569.14,154.69 L570.39,154.69 L570.39,154.69M570.39,153.78 L570.83,153.74 L571.37,153.69 L572.84,153.50M572.84,154.69 L573.37,154.69 L574.62,154.69 L574.62,154.69M574.62,153.17 L575.06,153.09 L575.60,152.99 L577.07,152.72M577.07,154.69 L577.60,154.69 L578.85,154.69 L578.85,154.69M578.85,152.40 L579.29,152.32 L579.83,152.22 L581.30,151.95M581.30,154.69 L581.83,154.69 L583.08,154.69 L583.08,154.69M583.08,151.62 L583.52,151.54 L584.06,151.42 L585.53,150.80M585.53,154.69 L586.06,154.69 L587.31,154.69 L587.31,154.69M587.31,150.06 L587.75,149.87 L588.29,149.65 L589.76,149.03M589.76,154.69 L590.29,154.69 L591.54,154.69 L591.54,154.69M591.54,148.29 L591.98,148.10 L592.52,147.88 L593.99,147.26M593.99,154.69 L594.52,154.69 L595.77,154.69 L595.77,154.69M595.77,146.52 L596.21,146.33 L596.75,146.11 L598.22,145.49M598.22,154.69 L598.75,154.69 L600.00,154.69 L600.00,154.69M600.00,144.75 L600.44,144.56 L600.98,144.34 L602.45,143.75M602.45,154.69 L602.98,154.69 L604.23,154.69 L604.23,154.69M604.23,143.03 L604.67,142.85 L605.21,142.64 L606.68,142.04M606.68,154.69 L607.21,154.69 L608.46,154.69 L608.46,154.69M608.46,141.33 L608.90,141.15 L609.44,140.93 L610.91,140.34M610.91,154.69 L611.44,154.69 L612.69,154.69 L612.69,154.69M612.69,139.62 L613.13,139.44 L613.67,139.22 L615.14,138.63M615.14,154.69 L615.67,154.69 L616.92,154.69 L616.92,154.69M616.92,137.87 L617.36,137.62 L617.90,137.30 L619.37,136.45M619.37,154.69 L619.90,154.69 L621.15,154.69 L621.15,154.69M621.15,135.41 L621.59,135.16 L622.13,134.84 L623.60,133.99M623.60,154.69 L624.13,154.69 L625.38,154.69 L625.38,154.69M625.38,132.95 L625.82,132.70 L626.36,132.37 L627.83,131.48M627.83,154.69 L628.36,154.69 L629.61,154.69 L629.61,154.69M629.61,130.41 L630.05,130.14 L630.59,129.81 L632.06,128.93M632.06,154.69 L632.59,154.69 L633.84,154.69 L633.84,154.69M633.84,127.85 L634.28,127.58 L634.82,127.26 L636.29,126.17M636.29,154.69 L636.82,154.69 L638.07,154.69 L638.07,154.69M638.07,124.85 L638.51,124.53 L639.05,124.13 L640.52,123.04M640.52,154.69 L641.05,154.69 L642.30,154.69 L642.30,154.69M642.30,121.72 L642.74,121.39 L643.28,120.99 L644.75,119.87M644.75,154.69 L645.28,154.69 L646.53,154.69 L646.53,154.69M646.53,118.49 L646.97,118.15 L647.51,117.74 L648.98,116.60M648.98,154.69 L649.51,154.69 L650.76,154.69 L650.76,154.69M650.76,115.23 L651.20,114.89 L651.74,114.47 L653.21,113.32M653.21,154.69 L653.74,154.69 L654.99,154.69 L654.99,154.69M654.99,111.93 L655.43,111.59 L655.97,111.17 L657.44,110.02M657.44,154.69 L657.97,154.69 L659.22,154.69 L659.22,154.69M659.22,108.62 L659.66,108.28 L660.20,107.86 L661.67,106.71M661.67,154.69 L662.20,154.69 L663.45,154.69 L663.45,154.69M663.45,105.32 L663.89,104.97 L664.43,104.55 L665.90,103.40M665.90,154.69 L666.43,154.69 L667.68,154.69 L667.68,154.69M667.68,102.01 L668.12,101.66 L668.66,101.23 L670.13,100.06M670.13,154.69 L670.66,154.69 L671.91,154.69 L671.91,154.69M671.91,98.64 L672.35,98.29 L672.89,97.86 L674.36,96.68M674.36,154.69 L674.89,154.69 L676.14,154.69 L676.14,154.69M676.14,95.26 L676.58,94.91 L677.12,94.48 L678.59,93.31M678.59,154.69 L679.12,154.69 L680.37,154.69 L680.37,154.69M680.37,91.89 L680.81,91.54 L681.35,91.11 L682.82,89.94M682.82,154.69 L683.35,154.69 L683.98,154.69" fill="none" stroke="#3a3a3a" stroke-width="0.85" stroke-linejoin="round" stroke-linecap="butt"/>
<path d="M500.93,156.58 L501.14,156.21 L501.64,156.08 L502.71,156.04 L502.71,156.04M502.71,154.55 L503.00,154.93 L503.57,155.14 L505.16,155.25M505.16,157.33 L505.37,156.44 L505.87,156.12 L506.94,156.04 L506.94,156.04M506.94,153.52 L507.23,154.29 L507.80,154.73 L509.39,154.99M509.39,158.10 L509.60,156.67 L510.10,156.17 L511.17,156.04 L511.17,156.04M511.17,151.89 L511.46,153.03 L512.03,153.60 L513.62,153.61M513.62,158.87 L513.83,156.90 L514.33,156.22 L515.40,156.04 L515.40,156.04M515.40,148.82 L515.69,150.73 L516.26,151.76 L517.85,152.08M517.85,159.63 L518.06,157.13 L518.56,156.26 L519.63,156.04 L519.63,156.04M519.63,145.44 L519.92,148.09 L520.49,149.47 L522.08,149.75M522.08,160.80 L522.29,157.49 L522.79,156.34 L523.86,156.04 L523.86,156.04M523.86,140.84 L524.15,144.50 L524.72,146.50 L526.31,147.19M526.31,162.08 L526.52,157.87 L527.02,156.41 L528.09,156.04 L528.09,156.04M528.09,136.33 L528.38,141.01 L528.95,143.59 L530.54,144.63M530.54,163.36 L530.75,158.25 L531.25,156.49 L532.32,156.04 L532.32,156.04M532.32,132.74 L532.61,137.93 L533.18,140.83 L534.77,142.07M534.77,164.64 L534.98,158.64 L535.48,156.57 L536.55,156.04 L536.55,156.04M536.55,129.16 L536.84,134.88 L537.41,138.06 L539.00,139.37M539.00,165.63 L539.21,158.93 L539.71,156.62 L540.78,156.04 L540.78,156.04M540.78,126.34 L541.07,132.06 L541.64,135.24 L543.23,136.55M543.23,166.39 L543.44,159.16 L543.94,156.67 L545.01,156.04 L545.01,156.04M545.01,123.52 L545.30,129.25 L545.87,132.33 L547.46,133.03M547.46,167.04 L547.67,159.35 L548.17,156.70 L549.24,156.04 L549.24,156.04M549.24,120.93 L549.53,125.82 L550.10,128.33 L551.69,128.67M551.69,167.56 L551.90,159.50 L552.40,156.73 L553.47,156.04 L553.47,156.04M553.47,118.37 L553.76,122.37 L554.33,124.34 L555.92,124.51M555.92,167.70 L556.13,159.53 L556.63,156.73 L557.70,156.04 L557.70,156.04M557.70,115.52 L557.99,118.97 L558.56,120.68 L560.15,120.67M560.15,167.19 L560.36,159.38 L560.86,156.70 L561.93,156.04 L561.93,156.04M561.93,112.57 L562.22,115.58 L562.79,117.02 L564.38,116.83M564.38,166.48 L564.59,159.15 L565.09,156.65 L566.16,156.04 L566.16,156.04M566.16,109.63 L566.45,112.19 L567.02,113.36 L568.61,112.99M568.61,165.20 L568.82,158.77 L569.32,156.58 L570.39,156.04 L570.39,156.04M570.39,106.69 L570.68,108.80 L571.25,109.70 L572.84,109.16M572.84,163.98 L573.05,158.41 L573.55,156.51 L574.62,156.04 L574.62,156.04M574.62,103.53 L574.91,105.28 L575.48,105.98 L577.07,105.32M577.07,163.08 L577.28,158.14 L577.78,156.45 L578.85,156.04 L578.85,156.04M578.85,100.20 L579.14,101.70 L579.71,102.24 L581.30,101.48M581.30,162.19 L581.51,157.87 L582.01,156.40 L583.08,156.04 L583.08,156.04M583.08,96.87 L583.37,98.12 L583.94,98.51 L585.53,97.64M585.53,161.29 L585.74,157.60 L586.24,156.34 L587.31,156.04 L587.31,156.04M587.31,93.55 L587.60,94.54 L588.17,94.77 L589.76,93.80M589.76,160.40 L589.97,157.33 L590.47,156.29 L591.54,156.04 L591.54,156.04M591.54,89.93 L591.83,90.71 L592.40,90.80 L593.99,89.66M593.99,159.86 L594.20,157.18 L594.70,156.26 L595.77,156.04 L595.77,156.04M595.77,85.79 L596.06,86.56 L596.63,86.65 L598.22,85.92M598.22,159.35 L598.43,157.02 L598.93,156.23 L600.00,156.04 L600.00,156.04M600.00,82.75 L600.29,83.62 L600.86,83.91 L602.45,83.36M602.45,158.84 L602.66,156.87 L603.16,156.20 L604.23,156.04 L604.23,156.04M604.23,80.21 L604.52,81.07 L605.09,81.35 L606.68,80.80M606.68,158.33 L606.89,156.72 L607.39,156.17 L608.46,156.04 L608.46,156.04M608.46,77.84 L608.75,78.75 L609.32,79.16 L610.91,79.00M610.91,158.15 L611.12,156.67 L611.62,156.16 L612.69,156.04 L612.69,156.04M612.69,76.33 L612.98,77.23 L613.55,77.63 L615.14,77.46M615.14,158.09 L615.35,156.65 L615.85,156.16 L616.92,156.04 L616.92,156.04M616.92,74.81 L617.21,75.71 L617.78,76.10 L619.37,75.92M619.37,158.03 L619.58,156.63 L620.08,156.16 L621.15,156.04 L621.15,156.04M621.15,73.30 L621.44,74.18 L622.01,74.57 L623.60,74.39M623.60,157.97 L623.81,156.62 L624.31,156.15 L625.38,156.04 L625.38,156.04M625.38,71.79 L625.67,72.66 L626.24,73.05 L627.83,72.88M627.83,157.91 L628.04,156.60 L628.54,156.15 L629.61,156.04 L629.61,156.04M629.61,70.32 L629.90,71.18 L630.47,71.56 L632.06,71.38M632.06,157.85 L632.27,156.58 L632.77,156.15 L633.84,156.04 L633.84,156.04M633.84,68.85 L634.13,69.70 L634.70,70.07 L636.29,69.89M636.29,157.79 L636.50,156.56 L637.00,156.14 L638.07,156.04 L638.07,156.04M638.07,67.51 L638.36,68.37 L638.93,68.78 L640.52,68.70M640.52,157.73 L640.73,156.54 L641.23,156.14 L642.30,156.04 L642.30,156.04M642.30,66.35 L642.59,67.19 L643.16,67.59 L644.75,67.52M644.75,157.67 L644.96,156.53 L645.46,156.14 L646.53,156.04 L646.53,156.04M646.53,65.19 L646.82,66.02 L647.39,66.41 L648.98,66.33M648.98,157.61 L649.19,156.51 L649.69,156.13 L650.76,156.04 L650.76,156.04M650.76,64.02 L651.05,64.84 L651.62,65.23 L653.21,65.14M653.21,157.55 L653.42,156.49 L653.92,156.13 L654.99,156.04 L654.99,156.04M654.99,62.86 L655.28,63.67 L655.85,64.04 L657.44,63.95M657.44,157.49 L657.65,156.47 L658.15,156.12 L659.22,156.04 L659.22,156.04M659.22,61.69 L659.51,62.49 L660.08,62.86 L661.67,62.81M661.67,157.43 L661.88,156.46 L662.38,156.12 L663.45,156.04 L663.45,156.04M663.45,60.74 L663.74,61.55 L664.31,61.96 L665.90,62.01M665.90,157.37 L666.11,156.44 L666.61,156.12 L667.68,156.04 L667.68,156.04M667.68,59.96 L667.97,60.76 L668.54,61.17 L670.13,61.21M670.13,157.31 L670.34,156.42 L670.84,156.11 L671.91,156.04 L671.91,156.04M671.91,59.19 L672.20,59.97 L672.77,60.37 L674.36,60.41M674.36,157.25 L674.57,156.40 L675.07,156.11 L676.14,156.04 L676.14,156.04M676.14,58.41 L676.43,59.19 L677.00,59.58 L678.59,59.61M678.59,157.19 L678.80,156.38 L679.30,156.11 L680.37,156.04 L680.37,156.04M680.37,57.64 L680.66,58.40 L681.23,58.78 L682.82,58.81M682.82,157.13 L683.03,156.37 L683.53,156.10 L683.98,156.04M500.93,155.50V155.77M502.71,154.55V155.40M505.16,155.25V155.73M505.16,156.74V157.33M506.94,153.52V155.14M509.39,154.99V155.68M509.39,156.92V158.10M511.17,151.89V154.71M513.62,153.61V155.12M513.62,157.09V158.87M515.40,148.82V153.81M517.85,152.08V153.82M517.85,157.26V159.63M519.63,145.44V151.85M522.08,149.75V151.95M522.08,157.43V160.80M523.86,140.84V149.72M526.31,147.19V149.15M526.31,157.60V162.08M528.09,136.33V145.91M530.54,144.63V145.04M530.54,157.91V163.36M532.32,132.74V141.17M534.77,158.30V164.64M536.55,129.16V136.71M539.00,158.68V165.63M540.78,126.34V130.76M543.23,159.06V166.39M545.01,123.52V123.79M547.46,159.27V167.04M551.69,159.27V167.56M555.92,159.27V167.70M560.15,159.27V167.19M564.38,159.23V166.48M568.61,159.05V165.20M572.84,158.88V163.98M577.07,158.71V163.08M581.30,158.54V162.19M585.53,158.37V161.29M589.76,158.20V160.40M593.99,158.15V159.86M598.22,158.10V159.35M602.45,158.05V158.84M606.68,158.00V158.33M610.91,157.95V158.15M615.14,157.90V158.09M619.37,157.86V158.03M623.60,157.81V157.97M627.83,157.76V157.91M632.06,157.71V157.85M636.29,157.66V157.79M640.52,157.61V157.73M644.75,157.56V157.67M648.98,157.52V157.61M653.21,157.47V157.55M657.44,157.42V157.49M661.67,157.37V157.43" fill="none" stroke="#e3a640" stroke-width="0.8" stroke-linejoin="round" stroke-linecap="butt"/>
<path d="M501.30,155.77H500.63V156.58H501.30ZM503.01,155.73H504.86V156.58H503.01ZM507.24,155.68H509.09V156.58H507.24ZM511.47,155.12H513.32V156.58H511.47ZM515.70,153.82H517.55V156.58H515.70ZM519.93,151.95H521.78V156.58H519.93ZM524.16,149.15H526.01V156.58H524.16ZM528.39,145.04H530.24V156.58H528.39ZM532.62,140.84H534.47V156.58H532.62ZM536.85,136.03H538.70V156.58H536.85ZM541.08,129.63H542.93V156.58H541.08ZM545.31,123.98H547.16V156.58H545.31ZM549.54,118.94H551.39V156.58H549.54ZM553.77,114.94H555.62V156.58H553.77ZM558.00,110.74H559.85V156.58H558.00ZM562.23,106.36H564.08V156.58H562.23ZM566.46,101.99H568.31V156.58H566.46ZM570.69,97.96H572.54V156.58H570.69ZM574.92,94.31H576.77V156.58H574.92ZM579.15,90.66H581.00V156.58H579.15ZM583.38,87.33H585.23V156.58H583.38ZM587.61,84.37H589.46V156.58H587.61ZM591.84,81.41H593.69V156.58H591.84ZM596.07,78.76H597.92V156.58H596.07ZM600.30,76.71H602.15V156.58H600.30ZM604.53,74.66H606.38V156.58H604.53ZM608.76,72.62H610.61V156.58H608.76ZM612.99,70.73H614.84V156.58H612.99ZM617.22,68.86H619.07V156.58H617.22ZM621.45,67.00H623.30V156.58H621.45ZM625.68,65.13H627.53V156.58H625.68ZM629.91,63.51H631.76V156.58H629.91ZM634.14,61.95H635.99V156.58H634.14ZM638.37,60.39H640.22V156.58H638.37ZM642.60,58.86H644.45V156.58H642.60ZM646.83,57.41H648.68V156.58H646.83ZM651.06,55.95H652.91V156.58H651.06ZM655.29,54.50H657.14V156.58H655.29ZM659.52,53.05H661.37V156.58H659.52ZM663.75,51.60H665.60V156.58H663.75ZM667.98,50.28H669.83V156.58H667.98ZM672.21,49.04H674.06V156.58H672.21ZM676.44,47.79H678.29V156.58H676.44ZM680.67,46.55H682.52V156.58H680.67Z" fill="rgba(31,160,104,0.13)"/>
<path d="M500.93,156.58 L501.46,156.58 L502.71,156.58 L502.71,156.58M502.71,155.40 L503.15,155.58 L503.69,155.68 L505.16,155.73M505.16,156.74 L505.69,156.64 L506.94,156.58 L506.94,156.58M506.94,155.14 L507.38,155.44 L507.92,155.61 L509.39,155.68M509.39,156.92 L509.92,156.70 L511.17,156.58 L511.17,156.58M511.17,154.71 L511.61,155.06 L512.15,155.21 L513.62,155.12M513.62,157.09 L514.15,156.76 L515.40,156.58 L515.40,156.58M515.40,153.81 L515.84,154.17 L516.38,154.26 L517.85,153.82M517.85,157.26 L518.38,156.82 L519.63,156.58 L519.63,156.58M519.63,151.85 L520.07,152.31 L520.61,152.43 L522.08,151.95M522.08,157.43 L522.61,156.88 L523.86,156.58 L523.86,156.58M523.86,149.72 L524.30,150.23 L524.84,150.19 L526.31,149.15M526.31,157.60 L526.84,156.94 L528.09,156.58 L528.09,156.58M528.09,145.91 L528.53,146.35 L529.07,146.29 L530.54,145.04M530.54,157.91 L531.07,157.06 L532.32,156.58 L532.32,156.58M532.32,141.17 L532.76,141.84 L533.30,141.93 L534.77,140.84M534.77,158.30 L535.30,157.20 L536.55,156.58 L536.55,156.58M536.55,136.71 L536.99,137.48 L537.53,137.52 L539.00,136.03M539.00,158.68 L539.53,157.33 L540.78,156.58 L540.78,156.58M540.78,130.76 L541.22,131.58 L541.76,131.56 L543.23,129.63M543.23,159.06 L543.76,157.46 L545.01,156.58 L545.01,156.58M545.01,123.79 L545.45,125.03 L545.99,125.33 L547.46,123.98M547.46,159.27 L547.99,157.52 L549.24,156.58 L549.24,156.58M549.24,118.67 L549.68,119.82 L550.22,120.07 L551.69,118.94M551.69,159.27 L552.22,157.52 L553.47,156.58 L553.47,156.58M553.47,114.35 L553.91,115.54 L554.45,115.90 L555.92,114.94M555.92,159.27 L556.45,157.52 L557.70,156.58 L557.70,156.58M557.70,110.51 L558.14,111.59 L558.68,111.85 L560.15,110.74M560.15,159.27 L560.68,157.52 L561.93,156.58 L561.93,156.58M561.93,106.33 L562.37,107.29 L562.91,107.50 L564.38,106.36M564.38,159.23 L564.91,157.50 L566.16,156.58 L566.16,156.58M566.16,102.12 L566.60,103.00 L567.14,103.16 L568.61,101.99M568.61,159.05 L569.14,157.44 L570.39,156.58 L570.39,156.58M570.39,97.92 L570.83,98.75 L571.37,98.93 L572.84,97.96M572.84,158.88 L573.37,157.38 L574.62,156.58 L574.62,156.58M574.62,94.29 L575.06,95.08 L575.60,95.26 L577.07,94.31M577.07,158.71 L577.60,157.32 L578.85,156.58 L578.85,156.58M578.85,90.66 L579.29,91.44 L579.83,91.61 L581.30,90.66M581.30,158.54 L581.83,157.26 L583.08,156.58 L583.08,156.58M583.08,87.02 L583.52,87.80 L584.06,88.04 L585.53,87.33M585.53,158.37 L586.06,157.20 L587.31,156.58 L587.31,156.58M587.31,84.00 L587.75,84.84 L588.29,85.08 L589.76,84.37M589.76,158.20 L590.29,157.14 L591.54,156.58 L591.54,156.58M591.54,81.06 L591.98,81.89 L592.52,82.13 L593.99,81.41M593.99,158.15 L594.52,157.12 L595.77,156.58 L595.77,156.58M595.77,78.12 L596.21,78.94 L596.75,79.17 L598.22,78.76M598.22,158.10 L598.75,157.11 L600.00,156.58 L600.00,156.58M600.00,75.88 L600.44,76.78 L600.98,77.12 L602.45,76.71M602.45,158.05 L602.98,157.09 L604.23,156.58 L604.23,156.58M604.23,73.85 L604.67,74.74 L605.21,75.08 L606.68,74.66M606.68,158.00 L607.21,157.07 L608.46,156.58 L608.46,156.58M608.46,71.82 L608.90,72.70 L609.44,73.03 L610.91,72.62M610.91,157.95 L611.44,157.06 L612.69,156.58 L612.69,156.58M612.69,69.85 L613.13,70.74 L613.67,71.09 L615.14,70.73M615.14,157.90 L615.67,157.04 L616.92,156.58 L616.92,156.58M616.92,68.01 L617.36,68.88 L617.90,69.22 L619.37,68.86M619.37,157.86 L619.90,157.02 L621.15,156.58 L621.15,156.58M621.15,66.16 L621.59,67.02 L622.13,67.36 L623.60,67.00M623.60,157.81 L624.13,157.01 L625.38,156.58 L625.38,156.58M625.38,64.31 L625.82,65.16 L626.36,65.49 L627.83,65.13M627.83,157.76 L628.36,156.99 L629.61,156.58 L629.61,156.58M629.61,62.54 L630.05,63.41 L630.59,63.77 L632.06,63.51M632.06,157.71 L632.59,156.97 L633.84,156.58 L633.84,156.58M633.84,61.00 L634.28,61.85 L634.82,62.21 L636.29,61.95M636.29,157.66 L636.82,156.95 L638.07,156.58 L638.07,156.58M638.07,59.45 L638.51,60.30 L639.05,60.65 L640.52,60.39M640.52,157.61 L641.05,156.94 L642.30,156.58 L642.30,156.58M642.30,57.91 L642.74,58.75 L643.28,59.09 L644.75,58.86M644.75,157.56 L645.28,156.92 L646.53,156.58 L646.53,156.58M646.53,56.45 L646.97,57.29 L647.51,57.64 L648.98,57.41M648.98,157.52 L649.51,156.90 L650.76,156.58 L650.76,156.58M650.76,55.02 L651.20,55.85 L651.74,56.19 L653.21,55.95M653.21,157.47 L653.74,156.89 L654.99,156.58 L654.99,156.58M654.99,53.59 L655.43,54.40 L655.97,54.74 L657.44,54.50M657.44,157.42 L657.97,156.87 L659.22,156.58 L659.22,156.58M659.22,52.15 L659.66,52.96 L660.20,53.29 L661.67,53.05M661.67,157.37 L662.20,156.85 L663.45,156.58 L663.45,156.58M663.45,50.72 L663.89,51.51 L664.43,51.84 L665.90,51.60M665.90,157.32 L666.43,156.84 L667.68,156.58 L667.68,156.58M667.68,49.31 L668.12,50.11 L668.66,50.46 L670.13,50.28M670.13,157.27 L670.66,156.82 L671.91,156.58 L671.91,156.58M671.91,48.09 L672.35,48.88 L672.89,49.22 L674.36,49.04M674.36,157.23 L674.89,156.80 L676.14,156.58 L676.14,156.58M676.14,46.86 L676.58,47.64 L677.12,47.98 L678.59,47.79M678.59,157.18 L679.12,156.78 L680.37,156.58 L680.37,156.58M680.37,45.64 L680.81,46.41 L681.35,46.74 L682.82,46.55M682.82,157.13 L683.35,156.77 L683.98,156.58M500.93,155.77V156.58M502.71,155.40V156.58M505.16,155.73V156.74M506.94,155.14V156.58M509.39,155.68V156.92M511.17,154.71V156.58M513.62,155.12V157.09M515.40,153.81V156.58M517.85,153.82V157.26M519.63,151.85V156.58M522.08,151.95V157.43M523.86,149.72V156.58M526.31,149.15V157.60M528.09,145.91V156.58M530.54,145.04V157.91M532.32,141.17V156.58M534.77,140.84V158.30M536.55,136.71V156.58M539.00,136.03V158.68M540.78,130.76V156.58M543.23,129.63V159.06M545.01,123.79V156.58M547.46,123.98V159.27M549.24,118.67V156.58M551.69,118.94V159.27M553.47,114.35V156.58M555.92,114.94V159.27M557.70,110.51V156.58M560.15,110.74V159.27M561.93,106.33V156.58M564.38,106.36V159.23M566.16,102.12V156.58M568.61,101.99V159.05M570.39,97.92V156.58M572.84,97.96V158.88M574.62,94.29V156.58M577.07,94.31V158.71M578.85,90.66V156.58M581.30,90.66V158.54M583.08,87.02V156.58M585.53,87.33V158.37M587.31,84.00V156.58M589.76,84.37V158.20M591.54,81.06V156.58M593.99,81.41V158.15M595.77,78.12V156.58M598.22,78.76V158.10M600.00,75.88V156.58M602.45,76.71V158.05M604.23,73.85V156.58M606.68,74.66V158.00M608.46,71.82V156.58M610.91,72.62V157.95M612.69,69.85V156.58M615.14,70.73V157.90M616.92,68.01V156.58M619.37,68.86V157.86M621.15,66.16V156.58M623.60,67.00V157.81M625.38,64.31V156.58M627.83,65.13V157.76M629.61,62.54V156.58M632.06,63.51V157.71M633.84,61.00V156.58M636.29,61.95V157.66M638.07,59.45V156.58M640.52,60.39V157.61M642.30,57.91V156.58M644.75,58.86V157.56M646.53,56.45V156.58M648.98,57.41V157.52M650.76,55.02V156.58M653.21,55.95V157.47M654.99,53.59V156.58M657.44,54.50V157.42M659.22,52.15V156.58M661.67,53.05V157.37M663.45,50.72V156.58M665.90,51.60V157.32M667.68,49.31V156.58M670.13,50.28V157.27M671.91,48.09V156.58M674.36,49.04V157.23M676.14,46.86V156.58M678.59,47.79V157.18M680.37,45.64V156.58M682.82,46.55V157.13" fill="none" stroke="#22a070" stroke-width="0.75" stroke-linejoin="round" stroke-linecap="butt"/>
<line x1="508.2" y1="41" x2="522.6" y2="41" stroke="#9a9a9a" stroke-width="1.4"/>
<line x1="508.2" y1="50.1" x2="522.6" y2="50.1" stroke="#e3a640" stroke-width="1.3"/>
<line x1="508.2" y1="59.2" x2="522.6" y2="59.2" stroke="#3aad7e" stroke-width="1.4"/>
<text x="525.6" y="43.8" font-size="9.8" fill="#222" textLength="24.10" lengthAdjust="spacingAndGlyphs">BiVO<tspan font-size="6.0" dy="3.1">4</tspan></text>
<text x="525.6" y="52.9" font-size="9.8" fill="#222" textLength="58.80" lengthAdjust="spacingAndGlyphs">BiVO<tspan font-size="6.0" dy="3.1">4</tspan><tspan dy="-3.1">/CoOOH</tspan></text>
<text x="525.6" y="62.0" font-size="9.8" fill="#222" textLength="97.40" lengthAdjust="spacingAndGlyphs">BiVO<tspan font-size="6.0" dy="3.1">4</tspan><tspan dy="-3.1">/PEI/TiO</tspan><tspan font-size="6.0" dy="3.1">2</tspan><tspan dy="-3.1">/CoOOH</tspan></text>
<text transform="translate(478.6,94.4) rotate(-90)" text-anchor="middle" font-size="10.4" font-weight="bold" fill="#1a1a1a" textLength="136.8" lengthAdjust="spacingAndGlyphs">Current density (mA cm<tspan font-size="6.5" dy="-4">-2</tspan><tspan dy="4">)</tspan></text>
<rect x="500.8" y="20.9" width="183.2" height="147.29999999999998" fill="none" stroke="#3a3a3a" stroke-width="1.15"/>
<rect x="27.5" y="213.6" width="429.6" height="147.29999999999998" fill="none" stroke="#3a3a3a" stroke-width="1.15"/>
<line x1="28.00" y1="361.0" x2="28.00" y2="355.2" stroke="#3a3a3a" stroke-width="0.9"/>
<line x1="99.40" y1="361.0" x2="99.40" y2="355.2" stroke="#3a3a3a" stroke-width="0.9"/>
<line x1="170.80" y1="361.0" x2="170.80" y2="355.2" stroke="#3a3a3a" stroke-width="0.9"/>
<line x1="242.20" y1="361.0" x2="242.20" y2="355.2" stroke="#3a3a3a" stroke-width="0.9"/>
<line x1="313.60" y1="361.0" x2="313.60" y2="355.2" stroke="#3a3a3a" stroke-width="0.9"/>
<line x1="385.00" y1="361.0" x2="385.00" y2="355.2" stroke="#3a3a3a" stroke-width="0.9"/>
<line x1="456.40" y1="361.0" x2="456.40" y2="355.2" stroke="#3a3a3a" stroke-width="0.9"/>
<line x1="63.70" y1="361.0" x2="63.70" y2="358.0" stroke="#3a3a3a" stroke-width="0.9"/>
<line x1="135.10" y1="361.0" x2="135.10" y2="358.0" stroke="#3a3a3a" stroke-width="0.9"/>
<line x1="206.50" y1="361.0" x2="206.50" y2="358.0" stroke="#3a3a3a" stroke-width="0.9"/>
<line x1="277.90" y1="361.0" x2="277.90" y2="358.0" stroke="#3a3a3a" stroke-width="0.9"/>
<line x1="349.30" y1="361.0" x2="349.30" y2="358.0" stroke="#3a3a3a" stroke-width="0.9"/>
<line x1="420.70" y1="361.0" x2="420.70" y2="358.0" stroke="#3a3a3a" stroke-width="0.9"/>
<line x1="27.5" y1="361.00" x2="33.5" y2="361.00" stroke="#3a3a3a" stroke-width="0.9"/>
<line x1="27.5" y1="324.15" x2="33.5" y2="324.15" stroke="#3a3a3a" stroke-width="0.9"/>
<line x1="27.5" y1="287.30" x2="33.5" y2="287.30" stroke="#3a3a3a" stroke-width="0.9"/>
<line x1="27.5" y1="250.45" x2="33.5" y2="250.45" stroke="#3a3a3a" stroke-width="0.9"/>
<line x1="27.5" y1="213.60" x2="33.5" y2="213.60" stroke="#3a3a3a" stroke-width="0.9"/>
<line x1="27.5" y1="342.57" x2="30.5" y2="342.57" stroke="#3a3a3a" stroke-width="0.9"/>
<line x1="27.5" y1="305.73" x2="30.5" y2="305.73" stroke="#3a3a3a" stroke-width="0.9"/>
<line x1="27.5" y1="268.88" x2="30.5" y2="268.88" stroke="#3a3a3a" stroke-width="0.9"/>
<line x1="27.5" y1="232.03" x2="30.5" y2="232.03" stroke="#3a3a3a" stroke-width="0.9"/>
<text x="28.00" y="371.5" font-size="8.8" text-anchor="middle" fill="#333" >0</text>
<text x="99.40" y="371.5" font-size="8.8" text-anchor="middle" fill="#333" >20</text>
<text x="170.80" y="371.5" font-size="8.8" text-anchor="middle" fill="#333" >40</text>
<text x="242.20" y="371.5" font-size="8.8" text-anchor="middle" fill="#333" >60</text>
<text x="313.60" y="371.5" font-size="8.8" text-anchor="middle" fill="#333" >80</text>
<text x="385.00" y="371.5" font-size="8.8" text-anchor="middle" fill="#333" >100</text>
<text x="456.40" y="371.5" font-size="8.8" text-anchor="middle" fill="#333" >120</text>
<text x="22.3" y="363.90" font-size="8.8" text-anchor="end" fill="#333" >0</text>
<text x="22.3" y="327.05" font-size="8.8" text-anchor="end" fill="#333" >1</text>
<text x="22.3" y="290.20" font-size="8.8" text-anchor="end" fill="#333" >2</text>
<text x="22.3" y="253.35" font-size="8.8" text-anchor="end" fill="#333" >3</text>
<text x="22.3" y="216.50" font-size="8.8" text-anchor="end" fill="#333" >4</text>
<text x="243.6" y="385.1" font-size="10.2" font-weight="bold" text-anchor="middle" fill="#1a1a1a" textLength="43.4" lengthAdjust="spacingAndGlyphs" >Time (h)</text>
<text transform="translate(8.6,287.5) rotate(-90)" text-anchor="middle" font-size="10.4" font-weight="bold" fill="#1a1a1a" textLength="138.6" lengthAdjust="spacingAndGlyphs">Current density (mA cm<tspan font-size="6.5" dy="-4">-2</tspan><tspan dy="4">)</tspan></text>
<text x="46.5" y="225.9" font-size="9.5" font-weight="bold" text-anchor="start" fill="#1a1a1a" textLength="69.8" lengthAdjust="spacingAndGlyphs" >0.5 M KPi (pH 8)</text>
<text x="46.5" y="238.0" font-size="8.8" text-anchor="start" fill="#2a2a2a" textLength="63.0" lengthAdjust="spacingAndGlyphs" >1.23 V vs. RHE</text>
<path d="M27.60,361.00 L27.60,332.60 L29.90,344.20 L33.70,351.90 L39.50,356.70 L45.30,358.30 L55.00,359.20 L70.00,359.80 L90.00,360.20 L100.00,360.50" fill="none" stroke="#555" stroke-width="0.8" stroke-linejoin="round" />
<path d="M27.90,361.00 L27.90,308.40 L31.80,317.00 L37.60,325.80 L45.30,332.60 L55.00,337.00 L69.50,339.90 L75.00,341.00 L81.10,341.80" fill="none" stroke="#e3a640" stroke-width="0.9" stroke-linejoin="round" />
<line x1="69.5" y1="339.9" x2="69.5" y2="361" stroke="#e3a640" stroke-width="0.9"/>
<line x1="27.6" y1="361" x2="27.6" y2="282" stroke="#3aa877" stroke-width="1.0"/>
<path d="M27.60,282.00 L28.50,287.00 L30.00,289.00 L31.00,287.50 L32.00,291.00 L33.00,290.00 L34.00,292.00 L34.80,296.50 L35.30,226.70 L35.90,258.00 L36.30,270.50 L36.80,276.00 L37.50,283.00 L38.40,298.00 L39.60,301.40 L40.50,292.00 L41.00,284.40 L41.50,296.00 L42.50,291.00 L43.50,289.00 L46.00,284.40" fill="none" stroke="#279a62" stroke-width="1.0" stroke-linejoin="round" />
<path d="M46.00,284.40 L47.50,283.46 L49.00,283.00 L51.00,280.00 L53.00,275.00 L54.50,274.29 L56.00,273.50 L57.60,273.03 L59.20,272.80 L60.60,273.74 L62.00,274.50 L63.33,275.08 L64.67,275.04 L66.00,275.90 L67.60,275.61 L69.20,276.20 L70.65,276.70 L72.10,276.38 L73.55,276.56 L75.00,277.00 L76.33,277.71 L77.67,277.51 L79.00,278.10 L80.33,278.05 L81.67,278.46 L83.00,278.60 L83.50,275.80 L84.00,278.40 L85.34,278.05 L86.68,278.44 L88.02,278.61 L89.36,278.26 L90.70,278.20 L91.98,278.85 L93.25,279.23 L94.53,279.12 L95.80,280.18 L97.08,280.47 L98.35,280.65 L99.62,280.84 L100.90,281.70 L102.12,282.54 L103.34,282.70 L104.56,283.43 L105.78,284.08 L107.00,284.44 L108.22,285.14 L109.44,285.18 L110.66,286.05 L111.88,286.24 L113.10,286.80 L114.33,287.70 L115.56,288.16 L116.79,287.97 L118.02,288.51 L119.25,289.10 L120.48,290.28 L121.71,290.31 L122.94,290.99 L124.17,291.21 L125.40,291.90 L126.69,292.35 L127.97,292.68 L129.26,293.09 L130.54,293.75 L131.83,294.19 L133.11,294.92 L134.40,295.00" fill="none" stroke="#279a62" stroke-width="1.5" stroke-linejoin="round" />
<path d="M134.80,264.30 L135.50,270.00 L137.70,278.60 L139.03,280.13 L140.37,281.72 L141.70,282.70 L142.94,283.22 L144.18,283.54 L145.42,283.45 L146.66,283.20 L147.90,283.70 L149.10,283.67 L150.30,283.00 L151.00,280.70 L152.00,282.00 L153.33,283.68 L154.67,284.90 L156.00,285.80 L157.24,286.68 L158.48,287.63 L159.72,288.00 L160.96,289.38 L162.20,289.90 L163.51,290.39 L164.83,290.56 L166.14,290.79 L167.46,291.93 L168.77,292.48 L170.09,292.10 L171.40,292.90 L172.95,292.17 L174.50,290.90 L175.85,290.92 L177.20,290.79 L178.55,291.01 L179.90,291.54 L181.25,291.74 L182.60,291.50 L183.97,290.99 L185.33,291.40 L186.70,290.79 L188.07,291.30 L189.43,290.85 L190.80,290.90 L191.30,286.00 L191.80,281.70 L193.50,285.00 L194.90,286.80 L196.18,287.14 L197.45,287.23 L198.72,286.80 L200.00,286.80 L201.00,287.30 L202.00,288.00 L203.00,286.00 L204.50,286.20 L206.00,285.50 L207.40,283.90 L208.40,279.90 L210.00,280.50 L211.33,281.16 L212.67,281.79 L214.00,283.00 L215.30,283.59 L216.60,284.00 L217.97,284.74 L219.33,286.06 L220.70,287.50" fill="none" stroke="#279a62" stroke-width="1.5" stroke-linejoin="round" />
<path d="M221.60,250.20 L222.30,260.40 L224.70,270.70 L225.94,271.42 L227.18,272.40 L228.42,272.79 L229.66,273.49 L230.90,274.70 L232.50,275.00 L233.90,274.50 L235.00,277.00 L236.50,277.23 L238.00,276.80 L239.37,278.33 L240.73,280.61 L242.10,281.90 L243.85,282.26 L245.60,281.90 L247.03,283.32 L248.45,284.91 L249.88,286.49 L251.30,288.00 L252.67,288.81 L254.03,289.45 L255.40,290.10 L256.77,290.84 L258.13,291.81 L259.50,292.10 L260.74,292.45 L261.99,292.73 L263.23,293.33 L264.48,293.24 L265.72,293.64 L266.97,294.60 L268.21,294.53 L269.46,294.90 L270.70,295.20 L272.40,288.40 L274.10,290.51 L275.80,293.50 L277.04,293.68 L278.28,294.09 L279.52,293.85 L280.76,294.64 L282.00,294.80 L283.43,294.24 L284.85,293.05 L286.27,292.89 L287.70,292.10 L289.00,293.50 L290.60,293.82 L292.20,294.20 L293.43,294.73 L294.67,294.80 L295.90,295.49 L297.13,295.88 L298.37,295.60 L299.60,296.40" fill="none" stroke="#279a62" stroke-width="1.5" stroke-linejoin="round" />
<path d="M300.40,244.10 L300.80,262.00 L301.50,272.70 L303.00,275.90 L304.50,279.90 L305.72,280.74 L306.94,281.68 L308.16,281.72 L309.38,282.58 L310.60,283.30 L311.82,284.32 L313.04,285.02 L314.26,286.00 L315.48,286.89 L316.70,288.00 L317.93,288.45 L319.15,289.21 L320.38,289.51 L321.61,290.14 L322.84,291.06 L324.06,290.96 L325.29,292.01 L326.52,292.72 L327.75,292.90 L328.97,293.39 L330.20,294.20 L331.50,294.94 L332.80,294.89 L334.10,295.31 L335.40,296.00 L336.70,296.70 L338.00,296.62 L339.30,297.29 L340.60,297.76 L341.90,298.67 L343.20,298.78 L344.50,299.30 L345.76,299.74 L347.02,299.25 L348.28,299.52 L349.55,299.93 L350.81,300.26 L352.07,299.99 L353.33,299.91 L354.59,299.94 L355.85,300.43 L357.12,300.25 L358.38,300.93 L359.64,301.08 L360.90,300.90 L362.17,300.62 L363.45,300.70 L364.72,301.18 L366.00,301.03 L367.27,301.18 L368.55,300.76 L369.82,300.57 L371.10,300.71 L372.38,301.16 L373.65,300.69 L374.93,300.76 L376.20,300.90 L377.60,296.20 L378.50,299.00 L379.90,301.13 L381.30,303.40 L382.57,304.13 L383.83,304.92 L385.10,305.80" fill="none" stroke="#279a62" stroke-width="1.5" stroke-linejoin="round" />
<path d="M385.70,271.70 L386.40,282.90 L388.00,286.00 L389.25,287.88 L390.50,289.00 L391.77,288.69 L393.05,288.55 L394.33,289.40 L395.60,289.00 L397.03,288.74 L398.45,288.24 L399.88,287.14 L401.30,286.60 L402.80,287.81 L404.30,288.58 L405.80,289.00 L407.04,289.57 L408.28,290.86 L409.52,291.76 L410.76,292.43 L412.00,293.10 L413.27,293.63 L414.55,293.94 L415.82,294.49 L417.10,294.90 L418.38,295.27 L419.65,296.25 L420.93,296.50 L422.20,297.20 L423.47,297.79 L424.75,297.42 L426.02,298.50 L427.30,298.62 L428.57,299.14 L429.85,299.43 L431.12,299.75 L432.40,299.70 L433.70,299.84 L435.00,299.41 L436.30,300.14 L437.60,299.70 L438.90,299.88 L440.20,300.28 L441.50,300.23 L442.80,300.20 L444.10,300.75 L445.40,300.53 L446.70,300.50 L448.01,300.47 L449.33,300.51 L450.64,301.17 L451.96,300.94 L453.27,301.33 L454.59,301.05 L455.90,301.30 L456.60,301.40" fill="none" stroke="#279a62" stroke-width="1.5" stroke-linejoin="round" />
<line x1="134.60" y1="361" x2="134.60" y2="264.30" stroke="#3aa877" stroke-width="1.0"/>
<line x1="221.40" y1="361" x2="221.40" y2="250.20" stroke="#3aa877" stroke-width="1.0"/>
<line x1="300.20" y1="361" x2="300.20" y2="244.10" stroke="#8fd0b0" stroke-width="1.0"/>
<line x1="385.50" y1="361" x2="385.50" y2="271.70" stroke="#8fd0b0" stroke-width="1.0"/>
<line x1="156" y1="251" x2="140.5" y2="261.3" stroke="#111" stroke-width="1.3"/>
<path d="M136.4,263.8 L139.2,257.8 L142.6,262.9 Z" fill="#111"/>
<text x="173.0" y="235.8" font-size="8.6" text-anchor="middle" fill="#3b3333" textLength="50.4" lengthAdjust="spacingAndGlyphs" >Light off / on</text>
<text x="173.0" y="248.2" font-size="8.6" text-anchor="middle" fill="#3b3333" textLength="68.3" lengthAdjust="spacingAndGlyphs" >(Add Electrolyte)</text>
<line x1="337.6" y1="223.3" x2="351.8" y2="223.3" stroke="#777" stroke-width="1.0"/>
<line x1="337.6" y1="232.4" x2="351.8" y2="232.4" stroke="#e3a640" stroke-width="1.0"/>
<line x1="337.6" y1="241.6" x2="351.8" y2="241.6" stroke="#7cc9a4" stroke-width="1.3"/>
<text x="355.0" y="225.7" font-size="9.8" fill="#222" textLength="21.50" lengthAdjust="spacingAndGlyphs">BiVO<tspan font-size="6.0" dy="3.1">4</tspan></text>
<text x="355.0" y="234.8" font-size="9.8" fill="#222" textLength="58.50" lengthAdjust="spacingAndGlyphs">BiVO<tspan font-size="6.0" dy="3.1">4</tspan><tspan dy="-3.1">/CoOOH</tspan></text>
<text x="355.0" y="243.9" font-size="9.8" fill="#222" textLength="96.40" lengthAdjust="spacingAndGlyphs">BiVO<tspan font-size="6.0" dy="3.1">4</tspan><tspan dy="-3.1">/PEI/TiO</tspan><tspan font-size="6.0" dy="3.1">2</tspan><tspan dy="-3.1">/CoOOH</tspan></text>
<rect x="501.3" y="213.5" width="182.90000000000003" height="147.7" fill="none" stroke="#3a3a3a" stroke-width="1.15"/>
<line x1="501.3" y1="360.80" x2="503.5" y2="360.80" stroke="#3a3a3a" stroke-width="0.9"/>
<line x1="501.3" y1="318.60" x2="503.5" y2="318.60" stroke="#3a3a3a" stroke-width="0.9"/>
<line x1="501.3" y1="276.40" x2="503.5" y2="276.40" stroke="#3a3a3a" stroke-width="0.9"/>
<line x1="501.3" y1="234.20" x2="503.5" y2="234.20" stroke="#3a3a3a" stroke-width="0.9"/>
<line x1="501.3" y1="339.70" x2="502.7" y2="339.70" stroke="#3a3a3a" stroke-width="0.9"/>
<line x1="501.3" y1="297.50" x2="502.7" y2="297.50" stroke="#3a3a3a" stroke-width="0.9"/>
<line x1="501.3" y1="255.30" x2="502.7" y2="255.30" stroke="#3a3a3a" stroke-width="0.9"/>
<line x1="501.3" y1="213.10" x2="502.7" y2="213.10" stroke="#3a3a3a" stroke-width="0.9"/>
<text x="498.0" y="363.70" font-size="8.8" text-anchor="end" fill="#333" >0.00</text>
<text x="498.0" y="321.50" font-size="8.8" text-anchor="end" fill="#333" >0.02</text>
<text x="498.0" y="279.30" font-size="8.8" text-anchor="end" fill="#333" >0.04</text>
<text x="498.0" y="237.10" font-size="8.8" text-anchor="end" fill="#333" >0.06</text>
<text transform="translate(475.0,287.3) rotate(-90)" text-anchor="middle" font-size="10.4" font-weight="bold" fill="#1a1a1a" textLength="120.1" lengthAdjust="spacingAndGlyphs">Concentration (mg L<tspan font-size="6.5" dy="-4">-1</tspan><tspan dy="4">)</tspan></text>
<rect x="519.6" y="255.30" width="12.20" height="105.50" fill="#bfc0bf" stroke="#666" stroke-width="0.8"/>
<line x1="525.70" y1="251.08" x2="525.70" y2="259.52" stroke="#333" stroke-width="0.8"/>
<line x1="524.20" y1="251.08" x2="527.20" y2="251.08" stroke="#333" stroke-width="0.8"/>
<line x1="524.20" y1="259.52" x2="527.20" y2="259.52" stroke="#333" stroke-width="0.8"/>
<text x="525.70" y="248.48" font-size="9.3" text-anchor="middle" fill="#2a2a2a" >Bi</text>
<rect x="538.2" y="312.27" width="12.70" height="48.53" fill="#bfc0bf" stroke="#666" stroke-width="0.8"/>
<line x1="544.55" y1="310.58" x2="544.55" y2="313.96" stroke="#333" stroke-width="0.8"/>
<line x1="543.05" y1="310.58" x2="546.05" y2="310.58" stroke="#333" stroke-width="0.8"/>
<line x1="543.05" y1="313.96" x2="546.05" y2="313.96" stroke="#333" stroke-width="0.8"/>
<text x="544.55" y="307.98" font-size="9.3" text-anchor="middle" fill="#2a2a2a" >V</text>
<rect x="577.2" y="335.48" width="12.90" height="25.32" fill="#e0aa3e" stroke="#6a5020" stroke-width="0.8"/>
<line x1="583.65" y1="331.89" x2="583.65" y2="339.07" stroke="#333" stroke-width="0.8"/>
<line x1="582.15" y1="331.89" x2="585.15" y2="331.89" stroke="#333" stroke-width="0.8"/>
<line x1="582.15" y1="339.07" x2="585.15" y2="339.07" stroke="#333" stroke-width="0.8"/>
<text x="583.65" y="329.29" font-size="9.3" text-anchor="middle" fill="#2a2a2a" >Bi</text>
<rect x="596.0" y="348.14" width="12.60" height="12.66" fill="#e0aa3e" stroke="#6a5020" stroke-width="0.8"/>
<line x1="602.30" y1="346.45" x2="602.30" y2="349.83" stroke="#333" stroke-width="0.8"/>
<line x1="600.80" y1="346.45" x2="603.80" y2="346.45" stroke="#333" stroke-width="0.8"/>
<line x1="600.80" y1="349.83" x2="603.80" y2="349.83" stroke="#333" stroke-width="0.8"/>
<text x="602.30" y="343.85" font-size="9.3" text-anchor="middle" fill="#2a2a2a" >V</text>
<rect x="635.5" y="356.58" width="12.70" height="4.22" fill="#1fa064" stroke="#1f4a30" stroke-width="0.8"/>
<line x1="641.85" y1="353.20" x2="641.85" y2="359.96" stroke="#333" stroke-width="0.8"/>
<line x1="640.35" y1="353.20" x2="643.35" y2="353.20" stroke="#333" stroke-width="0.8"/>
<line x1="640.35" y1="359.96" x2="643.35" y2="359.96" stroke="#333" stroke-width="0.8"/>
<text x="641.85" y="350.60" font-size="9.3" text-anchor="middle" fill="#2a2a2a" >Bi</text>
<rect x="654.0" y="358.69" width="12.60" height="2.11" fill="#1fa064" stroke="#1f4a30" stroke-width="0.8"/>
<line x1="660.30" y1="357.00" x2="660.30" y2="360.38" stroke="#333" stroke-width="0.8"/>
<line x1="658.80" y1="357.00" x2="661.80" y2="357.00" stroke="#333" stroke-width="0.8"/>
<line x1="658.80" y1="360.38" x2="661.80" y2="360.38" stroke="#333" stroke-width="0.8"/>
<text x="660.30" y="354.40" font-size="9.3" text-anchor="middle" fill="#2a2a2a" >V</text>
<rect x="565.5" y="219.60" width="14.2" height="6.8" fill="#bfc0bf" stroke="#555" stroke-width="0.8"/>
<rect x="565.5" y="228.95" width="14.2" height="6.8" fill="#e0aa3e" stroke="#4a3a18" stroke-width="0.8"/>
<rect x="565.5" y="238.30" width="14.2" height="6.8" fill="#1fa064" stroke="#1a3a28" stroke-width="0.8"/>
<text x="582.8" y="226.2" font-size="9.8" fill="#222" textLength="21.90" lengthAdjust="spacingAndGlyphs">BiVO<tspan font-size="6.0" dy="3.1">4</tspan></text>
<text x="582.8" y="235.5" font-size="9.8" fill="#222" textLength="58.40" lengthAdjust="spacingAndGlyphs">BiVO<tspan font-size="6.0" dy="3.1">4</tspan><tspan dy="-3.1">/CoOOH</tspan></text>
<text x="582.8" y="244.9" font-size="9.8" fill="#222" textLength="97.60" lengthAdjust="spacingAndGlyphs">BiVO<tspan font-size="6.0" dy="3.1">4</tspan><tspan dy="-3.1">/PEI/TiO</tspan><tspan font-size="6.0" dy="3.1">2</tspan><tspan dy="-3.1">/CoOOH</tspan></text>
</svg></body></html>
